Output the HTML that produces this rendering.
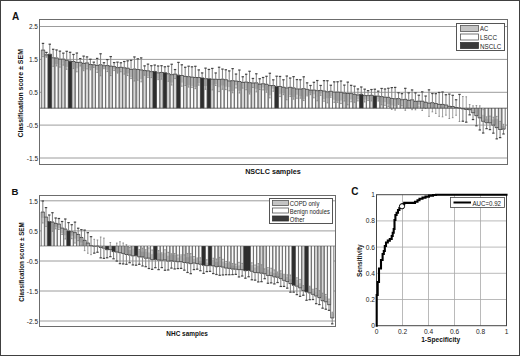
<!DOCTYPE html>
<html><head><meta charset="utf-8"><style>
html,body{margin:0;padding:0;background:#fff;width:520px;height:356px;overflow:hidden}
svg{display:block}
text{font-family:"Liberation Sans",sans-serif}
</style></head><body>
<svg width="520" height="356" viewBox="0 0 520 356">
<rect x="0.5" y="0.5" width="519" height="355" fill="#fff" stroke="#404040" stroke-width="1"/>
<g stroke="#9c9c9c" stroke-width="1"><path d="M40 26.5H507"/><path d="M40 59.4H507"/><path d="M40 92.3H507"/><path d="M40 125.1H507"/><path d="M40 158.0H507"/></g>
<g fill="#d6d6d6"><rect x="41.31" y="50.00" width="3.39" height="58.20"/><rect x="51.47" y="57.79" width="3.39" height="50.41"/><rect x="58.24" y="59.13" width="3.39" height="49.07"/><rect x="61.62" y="59.13" width="3.39" height="49.07"/><rect x="71.78" y="61.47" width="3.39" height="46.73"/><rect x="78.55" y="62.28" width="3.39" height="45.92"/><rect x="85.33" y="62.88" width="3.39" height="45.32"/><rect x="92.10" y="64.76" width="3.39" height="43.44"/><rect x="98.87" y="64.77" width="3.39" height="43.43"/><rect x="109.03" y="66.08" width="3.39" height="42.12"/><rect x="119.19" y="67.27" width="3.39" height="40.93"/><rect x="122.57" y="67.80" width="3.39" height="40.40"/><rect x="132.73" y="68.97" width="3.39" height="39.23"/><rect x="136.11" y="69.49" width="3.39" height="38.71"/><rect x="142.89" y="70.57" width="3.39" height="37.63"/><rect x="149.66" y="71.65" width="3.39" height="36.55"/><rect x="159.82" y="72.45" width="3.39" height="35.75"/><rect x="166.59" y="73.74" width="3.39" height="34.46"/><rect x="173.36" y="74.06" width="3.39" height="34.14"/><rect x="183.52" y="76.36" width="3.39" height="31.84"/><rect x="210.61" y="79.20" width="3.39" height="29.00"/><rect x="241.08" y="82.45" width="3.39" height="25.75"/><rect x="244.47" y="82.01" width="3.39" height="26.19"/><rect x="251.24" y="82.97" width="3.39" height="25.23"/><rect x="258.01" y="84.12" width="3.39" height="24.08"/><rect x="285.10" y="87.91" width="3.39" height="20.29"/><rect x="315.57" y="90.67" width="3.39" height="17.53"/><rect x="342.66" y="93.07" width="3.39" height="15.13"/><rect x="346.05" y="93.46" width="3.39" height="14.74"/><rect x="352.82" y="94.26" width="3.39" height="13.94"/><rect x="369.75" y="95.25" width="3.39" height="12.95"/><rect x="379.91" y="96.64" width="3.39" height="11.56"/><rect x="400.22" y="99.69" width="3.39" height="8.51"/><rect x="403.61" y="99.32" width="3.39" height="8.88"/><rect x="407.00" y="100.35" width="3.39" height="7.85"/><rect x="410.38" y="99.81" width="3.39" height="8.39"/><rect x="413.77" y="101.34" width="3.39" height="6.86"/><rect x="420.54" y="101.17" width="3.39" height="7.03"/><rect x="423.93" y="102.25" width="3.39" height="5.95"/><rect x="437.47" y="104.39" width="3.39" height="3.81"/><rect x="444.24" y="104.94" width="3.39" height="3.26"/><rect x="488.26" y="108.20" width="3.39" height="14.65"/><rect x="498.42" y="108.20" width="3.39" height="21.29"/></g>
<g fill="#fafafa"><rect x="44.69" y="54.80" width="3.39" height="53.40"/><rect x="54.85" y="57.96" width="3.39" height="50.24"/><rect x="65.01" y="60.30" width="3.39" height="47.90"/><rect x="75.17" y="62.44" width="3.39" height="45.76"/><rect x="81.94" y="63.42" width="3.39" height="44.78"/><rect x="88.71" y="64.53" width="3.39" height="43.67"/><rect x="95.48" y="65.41" width="3.39" height="42.79"/><rect x="102.26" y="65.71" width="3.39" height="42.49"/><rect x="105.64" y="65.59" width="3.39" height="42.61"/><rect x="112.41" y="66.58" width="3.39" height="41.62"/><rect x="115.80" y="67.63" width="3.39" height="40.57"/><rect x="125.96" y="68.18" width="3.39" height="40.02"/><rect x="129.34" y="69.47" width="3.39" height="38.73"/><rect x="139.50" y="69.86" width="3.39" height="38.34"/><rect x="146.27" y="70.78" width="3.39" height="37.42"/><rect x="156.43" y="72.81" width="3.39" height="35.39"/><rect x="169.97" y="74.65" width="3.39" height="33.55"/><rect x="180.13" y="75.50" width="3.39" height="32.70"/><rect x="186.91" y="76.66" width="3.39" height="31.54"/><rect x="190.29" y="77.10" width="3.39" height="31.10"/><rect x="193.68" y="77.47" width="3.39" height="30.73"/><rect x="197.06" y="77.53" width="3.39" height="30.67"/><rect x="203.84" y="78.73" width="3.39" height="29.47"/><rect x="213.99" y="79.24" width="3.39" height="28.96"/><rect x="217.38" y="79.44" width="3.39" height="28.76"/><rect x="220.76" y="79.18" width="3.39" height="29.02"/><rect x="224.15" y="79.70" width="3.39" height="28.50"/><rect x="227.54" y="80.90" width="3.39" height="27.30"/><rect x="230.92" y="80.70" width="3.39" height="27.50"/><rect x="234.31" y="81.02" width="3.39" height="27.18"/><rect x="237.69" y="81.53" width="3.39" height="26.67"/><rect x="247.85" y="82.64" width="3.39" height="25.56"/><rect x="254.62" y="82.84" width="3.39" height="25.36"/><rect x="261.40" y="83.72" width="3.39" height="24.48"/><rect x="264.78" y="84.28" width="3.39" height="23.92"/><rect x="268.17" y="85.55" width="3.39" height="22.65"/><rect x="271.56" y="85.54" width="3.39" height="22.66"/><rect x="278.33" y="86.51" width="3.39" height="21.69"/><rect x="281.71" y="87.24" width="3.39" height="20.96"/><rect x="288.49" y="87.30" width="3.39" height="20.90"/><rect x="291.87" y="87.91" width="3.39" height="20.29"/><rect x="295.26" y="88.92" width="3.39" height="19.28"/><rect x="298.64" y="88.97" width="3.39" height="19.23"/><rect x="302.03" y="88.68" width="3.39" height="19.52"/><rect x="305.42" y="89.38" width="3.39" height="18.82"/><rect x="308.80" y="90.09" width="3.39" height="18.11"/><rect x="312.19" y="90.04" width="3.39" height="18.16"/><rect x="318.96" y="90.42" width="3.39" height="17.78"/><rect x="322.35" y="90.96" width="3.39" height="17.24"/><rect x="325.73" y="91.79" width="3.39" height="16.41"/><rect x="329.12" y="91.25" width="3.39" height="16.95"/><rect x="332.50" y="92.10" width="3.39" height="16.10"/><rect x="335.89" y="92.06" width="3.39" height="16.14"/><rect x="339.28" y="92.28" width="3.39" height="15.92"/><rect x="349.43" y="93.56" width="3.39" height="14.64"/><rect x="356.21" y="94.93" width="3.39" height="13.27"/><rect x="362.98" y="95.58" width="3.39" height="12.62"/><rect x="366.36" y="95.60" width="3.39" height="12.60"/><rect x="376.52" y="96.09" width="3.39" height="12.11"/><rect x="383.29" y="97.17" width="3.39" height="11.03"/><rect x="386.68" y="97.34" width="3.39" height="10.86"/><rect x="390.07" y="98.50" width="3.39" height="9.70"/><rect x="393.45" y="98.75" width="3.39" height="9.45"/><rect x="396.84" y="98.61" width="3.39" height="9.59"/><rect x="417.15" y="101.17" width="3.39" height="7.03"/><rect x="427.31" y="103.10" width="3.39" height="5.10"/><rect x="430.70" y="102.69" width="3.39" height="5.51"/><rect x="434.08" y="103.54" width="3.39" height="4.66"/><rect x="440.86" y="104.41" width="3.39" height="3.79"/><rect x="447.63" y="106.30" width="3.39" height="1.90"/><rect x="451.01" y="106.50" width="3.39" height="1.70"/><rect x="454.40" y="107.51" width="3.39" height="0.69"/><rect x="457.79" y="107.95" width="3.39" height="0.25"/><rect x="461.17" y="108.20" width="3.39" height="0.67"/><rect x="464.56" y="108.20" width="3.39" height="1.27"/><rect x="467.94" y="108.20" width="3.39" height="1.53"/><rect x="471.33" y="108.20" width="3.39" height="4.49"/><rect x="474.72" y="108.20" width="3.39" height="7.48"/><rect x="478.10" y="108.20" width="3.39" height="9.70"/><rect x="481.49" y="108.20" width="3.39" height="13.12"/><rect x="484.87" y="108.20" width="3.39" height="14.54"/><rect x="491.65" y="108.20" width="3.39" height="16.96"/><rect x="495.03" y="108.20" width="3.39" height="19.43"/><rect x="501.80" y="108.20" width="3.39" height="20.95"/></g>
<g fill="#c8c8c8"><rect x="41.31" y="50.00" width="3.39" height="4.71"/><rect x="44.69" y="54.80" width="3.39" height="1.75"/><rect x="51.47" y="57.79" width="3.39" height="6.74"/><rect x="54.85" y="57.96" width="3.39" height="6.23"/><rect x="58.24" y="59.13" width="3.39" height="5.88"/><rect x="61.62" y="59.13" width="3.39" height="3.36"/><rect x="65.01" y="60.30" width="3.39" height="6.59"/><rect x="71.78" y="61.47" width="3.39" height="6.29"/><rect x="75.17" y="62.44" width="3.39" height="5.93"/><rect x="78.55" y="62.28" width="3.39" height="2.55"/><rect x="81.94" y="63.42" width="3.39" height="6.18"/><rect x="85.33" y="62.88" width="3.39" height="4.29"/><rect x="88.71" y="64.53" width="3.39" height="4.08"/><rect x="92.10" y="64.76" width="3.39" height="1.73"/><rect x="95.48" y="65.41" width="3.39" height="4.45"/><rect x="98.87" y="64.77" width="3.39" height="6.73"/><rect x="102.26" y="65.71" width="3.39" height="2.42"/><rect x="105.64" y="65.59" width="3.39" height="4.18"/><rect x="109.03" y="66.08" width="3.39" height="7.90"/><rect x="112.41" y="66.58" width="3.39" height="2.75"/><rect x="115.80" y="67.63" width="3.39" height="4.93"/><rect x="119.19" y="67.27" width="3.39" height="2.99"/><rect x="122.57" y="67.80" width="3.39" height="4.75"/><rect x="125.96" y="68.18" width="3.39" height="5.21"/><rect x="129.34" y="69.47" width="3.39" height="7.79"/><rect x="132.73" y="68.97" width="3.39" height="10.07"/><rect x="136.11" y="69.49" width="3.39" height="9.38"/><rect x="139.50" y="69.86" width="3.39" height="9.11"/><rect x="142.89" y="70.57" width="3.39" height="4.16"/><rect x="146.27" y="70.78" width="3.39" height="5.56"/><rect x="149.66" y="71.65" width="3.39" height="4.77"/><rect x="156.43" y="72.81" width="3.39" height="5.96"/><rect x="159.82" y="72.45" width="3.39" height="4.76"/><rect x="166.59" y="73.74" width="3.39" height="6.50"/><rect x="169.97" y="74.65" width="3.39" height="7.85"/><rect x="173.36" y="74.06" width="3.39" height="3.92"/><rect x="180.13" y="75.50" width="3.39" height="7.08"/><rect x="183.52" y="76.36" width="3.39" height="7.35"/><rect x="186.91" y="76.66" width="3.39" height="8.65"/><rect x="190.29" y="77.10" width="3.39" height="8.89"/><rect x="193.68" y="77.47" width="3.39" height="9.52"/><rect x="197.06" y="77.53" width="3.39" height="5.75"/><rect x="203.84" y="78.73" width="3.39" height="7.27"/><rect x="210.61" y="79.20" width="3.39" height="6.03"/><rect x="213.99" y="79.24" width="3.39" height="4.99"/><rect x="217.38" y="79.44" width="3.39" height="7.80"/><rect x="220.76" y="79.18" width="3.39" height="6.27"/><rect x="224.15" y="79.70" width="3.39" height="7.00"/><rect x="227.54" y="80.90" width="3.39" height="6.18"/><rect x="230.92" y="80.70" width="3.39" height="10.37"/><rect x="234.31" y="81.02" width="3.39" height="4.17"/><rect x="237.69" y="81.53" width="3.39" height="9.19"/><rect x="241.08" y="82.45" width="3.39" height="4.03"/><rect x="244.47" y="82.01" width="3.39" height="5.98"/><rect x="247.85" y="82.64" width="3.39" height="10.17"/><rect x="251.24" y="82.97" width="3.39" height="3.86"/><rect x="254.62" y="82.84" width="3.39" height="5.97"/><rect x="258.01" y="84.12" width="3.39" height="3.82"/><rect x="261.40" y="83.72" width="3.39" height="3.74"/><rect x="264.78" y="84.28" width="3.39" height="6.16"/><rect x="268.17" y="85.55" width="3.39" height="9.71"/><rect x="271.56" y="85.54" width="3.39" height="3.16"/><rect x="278.33" y="86.51" width="3.39" height="7.36"/><rect x="281.71" y="87.24" width="3.39" height="6.17"/><rect x="285.10" y="87.91" width="3.39" height="9.54"/><rect x="288.49" y="87.30" width="3.39" height="8.05"/><rect x="291.87" y="87.91" width="3.39" height="9.36"/><rect x="295.26" y="88.92" width="3.39" height="5.82"/><rect x="298.64" y="88.97" width="3.39" height="7.39"/><rect x="302.03" y="88.68" width="3.39" height="10.59"/><rect x="305.42" y="89.38" width="3.39" height="5.68"/><rect x="308.80" y="90.09" width="3.39" height="3.25"/><rect x="312.19" y="90.04" width="3.39" height="4.34"/><rect x="315.57" y="90.67" width="3.39" height="6.19"/><rect x="318.96" y="90.42" width="3.39" height="2.99"/><rect x="322.35" y="90.96" width="3.39" height="8.16"/><rect x="325.73" y="91.79" width="3.39" height="6.42"/><rect x="329.12" y="91.25" width="3.39" height="4.84"/><rect x="332.50" y="92.10" width="3.39" height="7.65"/><rect x="335.89" y="92.06" width="3.39" height="8.90"/><rect x="339.28" y="92.28" width="3.39" height="8.26"/><rect x="342.66" y="93.07" width="3.39" height="5.79"/><rect x="346.05" y="93.46" width="3.39" height="8.29"/><rect x="349.43" y="93.56" width="3.39" height="5.94"/><rect x="352.82" y="94.26" width="3.39" height="5.60"/><rect x="356.21" y="94.93" width="3.39" height="4.29"/><rect x="362.98" y="95.58" width="3.39" height="3.95"/><rect x="366.36" y="95.60" width="3.39" height="4.07"/><rect x="369.75" y="95.25" width="3.39" height="4.53"/><rect x="376.52" y="96.09" width="3.39" height="3.59"/><rect x="379.91" y="96.64" width="3.39" height="5.75"/><rect x="383.29" y="97.17" width="3.39" height="4.97"/><rect x="386.68" y="97.34" width="3.39" height="6.69"/><rect x="390.07" y="98.50" width="3.39" height="6.88"/><rect x="393.45" y="98.75" width="3.39" height="7.49"/><rect x="396.84" y="98.61" width="3.39" height="5.26"/><rect x="400.22" y="99.69" width="3.39" height="4.87"/><rect x="403.61" y="99.32" width="3.39" height="7.66"/><rect x="407.00" y="100.35" width="3.39" height="5.92"/><rect x="410.38" y="99.81" width="3.39" height="8.39"/><rect x="413.77" y="101.34" width="3.39" height="6.86"/><rect x="417.15" y="101.17" width="3.39" height="3.42"/><rect x="420.54" y="101.17" width="3.39" height="6.81"/><rect x="423.93" y="102.25" width="3.39" height="3.86"/><rect x="427.31" y="103.10" width="3.39" height="5.10"/><rect x="430.70" y="102.69" width="3.39" height="5.51"/><rect x="434.08" y="103.54" width="3.39" height="4.66"/><rect x="437.47" y="104.39" width="3.39" height="3.81"/><rect x="440.86" y="104.41" width="3.39" height="3.79"/><rect x="444.24" y="104.94" width="3.39" height="3.26"/><rect x="447.63" y="106.30" width="3.39" height="1.90"/><rect x="451.01" y="106.50" width="3.39" height="1.70"/><rect x="454.40" y="107.51" width="3.39" height="0.69"/><rect x="457.79" y="107.95" width="3.39" height="0.25"/><rect x="461.17" y="108.20" width="3.39" height="0.67"/><rect x="464.56" y="108.20" width="3.39" height="1.27"/><rect x="467.94" y="108.20" width="3.39" height="1.53"/><rect x="471.33" y="108.20" width="3.39" height="4.49"/><rect x="474.72" y="108.20" width="3.39" height="7.48"/><rect x="478.10" y="108.56" width="3.39" height="9.34"/><rect x="481.49" y="114.79" width="3.39" height="6.53"/><rect x="484.87" y="118.66" width="3.39" height="4.08"/><rect x="488.26" y="118.91" width="3.39" height="3.94"/><rect x="491.65" y="119.35" width="3.39" height="5.81"/><rect x="495.03" y="118.95" width="3.39" height="8.68"/><rect x="498.42" y="122.86" width="3.39" height="6.63"/><rect x="501.80" y="125.71" width="3.39" height="3.45"/></g>
<path d="M41.31 50.00V108.20M44.69 50.00V108.20M44.69 54.80V108.20M48.08 54.80V108.20M48.08 54.20V108.20M51.47 54.20V108.20M51.47 57.79V108.20M54.85 57.79V108.20M54.85 57.96V108.20M58.24 57.96V108.20M58.24 59.13V108.20M61.62 59.13V108.20M61.62 59.13V108.20M65.01 59.13V108.20M65.01 60.30V108.20M68.39 60.30V108.20M68.39 61.18V108.20M71.78 61.18V108.20M71.78 61.47V108.20M75.17 61.47V108.20M75.17 62.44V108.20M78.55 62.44V108.20M78.55 62.28V108.20M81.94 62.28V108.20M81.94 63.42V108.20M85.33 63.42V108.20M85.33 62.88V108.20M88.71 62.88V108.20M88.71 64.53V108.20M92.10 64.53V108.20M92.10 64.76V108.20M95.48 64.76V108.20M95.48 65.41V108.20M98.87 65.41V108.20M98.87 64.77V108.20M102.26 64.77V108.20M102.26 65.71V108.20M105.64 65.71V108.20M105.64 65.59V108.20M109.03 65.59V108.20M109.03 66.08V108.20M112.41 66.08V108.20M112.41 66.58V108.20M115.80 66.58V108.20M115.80 67.63V108.20M119.19 67.63V108.20M119.19 67.27V108.20M122.57 67.27V108.20M122.57 67.80V108.20M125.96 67.80V108.20M125.96 68.18V108.20M129.34 68.18V108.20M129.34 69.47V108.20M132.73 69.47V108.20M132.73 68.97V108.20M136.11 68.97V108.20M136.11 69.49V108.20M139.50 69.49V108.20M139.50 69.86V108.20M142.89 69.86V108.20M142.89 70.57V108.20M146.27 70.57V108.20M146.27 70.78V108.20M149.66 70.78V108.20M149.66 71.65V108.20M153.04 71.65V108.20M153.04 71.45V108.20M156.43 71.45V108.20M156.43 72.81V108.20M159.82 72.81V108.20M159.82 72.45V108.20M163.20 72.45V108.20M163.20 72.70V108.20M166.59 72.70V108.20M166.59 73.74V108.20M169.97 73.74V108.20M169.97 74.65V108.20M173.36 74.65V108.20M173.36 74.06V108.20M176.75 74.06V108.20M176.75 75.16V108.20M180.13 75.16V108.20M180.13 75.50V108.20M183.52 75.50V108.20M183.52 76.36V108.20M186.91 76.36V108.20M186.91 76.66V108.20M190.29 76.66V108.20M190.29 77.10V108.20M193.68 77.10V108.20M193.68 77.47V108.20M197.06 77.47V108.20M197.06 77.53V108.20M200.45 77.53V108.20M200.45 77.94V108.20M203.83 77.94V108.20M203.84 78.73V108.20M207.22 78.73V108.20M207.22 78.74V108.20M210.61 78.74V108.20M210.61 79.20V108.20M213.99 79.20V108.20M213.99 79.24V108.20M217.38 79.24V108.20M217.38 79.44V108.20M220.76 79.44V108.20M220.76 79.18V108.20M224.15 79.18V108.20M224.15 79.70V108.20M227.54 79.70V108.20M227.54 80.90V108.20M230.92 80.90V108.20M230.92 80.70V108.20M234.31 80.70V108.20M234.31 81.02V108.20M237.69 81.02V108.20M237.69 81.53V108.20M241.08 81.53V108.20M241.08 82.45V108.20M244.47 82.45V108.20M244.47 82.01V108.20M247.85 82.01V108.20M247.85 82.64V108.20M251.24 82.64V108.20M251.24 82.97V108.20M254.62 82.97V108.20M254.62 82.84V108.20M258.01 82.84V108.20M258.01 84.12V108.20M261.40 84.12V108.20M261.40 83.72V108.20M264.78 83.72V108.20M264.78 84.28V108.20M268.17 84.28V108.20M268.17 85.55V108.20M271.56 85.55V108.20M271.56 85.54V108.20M274.94 85.54V108.20M274.94 86.41V108.20M278.33 86.41V108.20M278.33 86.51V108.20M281.71 86.51V108.20M281.71 87.24V108.20M285.10 87.24V108.20M285.10 87.91V108.20M288.49 87.91V108.20M288.49 87.30V108.20M291.87 87.30V108.20M291.87 87.91V108.20M295.26 87.91V108.20M295.26 88.92V108.20M298.64 88.92V108.20M298.64 88.97V108.20M302.03 88.97V108.20M302.03 88.68V108.20M305.42 88.68V108.20M305.42 89.38V108.20M308.80 89.38V108.20M308.80 90.09V108.20M312.19 90.09V108.20M312.19 90.04V108.20M315.57 90.04V108.20M315.57 90.67V108.20M318.96 90.67V108.20M318.96 90.42V108.20M322.35 90.42V108.20M322.35 90.96V108.20M325.73 90.96V108.20M325.73 91.79V108.20M329.12 91.79V108.20M329.12 91.25V108.20M332.50 91.25V108.20M332.50 92.10V108.20M335.89 92.10V108.20M335.89 92.06V108.20M339.28 92.06V108.20M339.28 92.28V108.20M342.66 92.28V108.20M342.66 93.07V108.20M346.05 93.07V108.20M346.05 93.46V108.20M349.43 93.46V108.20M349.43 93.56V108.20M352.82 93.56V108.20M352.82 94.26V108.20M356.21 94.26V108.20M356.21 94.93V108.20M359.59 94.93V108.20M359.59 94.29V108.20M362.98 94.29V108.20M362.98 95.58V108.20M366.36 95.58V108.20M366.36 95.60V108.20M369.75 95.60V108.20M369.75 95.25V108.20M373.14 95.25V108.20M373.14 95.97V108.20M376.52 95.97V108.20M376.52 96.09V108.20M379.91 96.09V108.20M379.91 96.64V108.20M383.29 96.64V108.20M383.29 97.17V108.20M386.68 97.17V108.20M386.68 97.34V108.20M390.07 97.34V108.20M390.07 98.50V108.20M393.45 98.50V108.20M393.45 98.75V108.20M396.84 98.75V108.20M396.84 98.61V108.20M400.22 98.61V108.20M400.22 99.69V108.20M403.61 99.69V108.20M403.61 99.32V108.20M407.00 99.32V108.20M407.00 100.35V108.20M410.38 100.35V108.20M410.38 99.81V108.20M413.77 99.81V108.20M413.77 101.34V108.20M417.15 101.34V108.20M417.15 101.17V108.20M420.54 101.17V108.20M420.54 101.17V108.20M423.93 101.17V108.20M423.93 102.25V108.20M427.31 102.25V108.20M427.31 103.10V108.20M430.70 103.10V108.20M430.70 102.69V108.20M434.08 102.69V108.20M434.08 103.54V108.20M437.47 103.54V108.20M437.47 104.39V108.20M440.86 104.39V108.20M440.86 104.41V108.20M444.24 104.41V108.20M444.24 104.94V108.20M447.63 104.94V108.20M447.63 106.30V108.20M451.01 106.30V108.20M451.01 106.50V108.20M454.40 106.50V108.20M454.40 107.51V108.20M457.79 107.51V108.20M457.79 107.95V108.20M461.17 107.95V108.20M461.17 108.20V108.87M464.56 108.20V108.87M464.56 108.20V109.47M467.94 108.20V109.47M467.94 108.20V109.73M471.33 108.20V109.73M471.33 108.20V112.69M474.72 108.20V112.69M474.72 108.20V115.68M478.10 108.20V115.68M478.10 108.20V117.90M481.49 108.20V117.90M481.49 108.20V121.32M484.87 108.20V121.32M484.87 108.20V122.74M488.26 108.20V122.74M488.26 108.20V122.85M491.65 108.20V122.85M491.65 108.20V125.16M495.03 108.20V125.16M495.03 108.20V127.63M498.42 108.20V127.63M498.42 108.20V129.49M501.80 108.20V129.49M501.80 108.20V129.15M505.19 108.20V129.15" stroke="#727272" stroke-width="1.0" fill="none"/>
<g fill="#2e2e2e"><rect x="48.08" y="54.20" width="3.39" height="54.00"/><rect x="68.39" y="61.18" width="3.39" height="47.02"/><rect x="153.04" y="71.45" width="3.39" height="36.75"/><rect x="163.20" y="72.70" width="3.39" height="35.50"/><rect x="176.75" y="75.16" width="3.39" height="33.04"/><rect x="200.45" y="77.94" width="3.39" height="30.26"/><rect x="207.22" y="78.74" width="3.39" height="29.46"/><rect x="274.94" y="86.41" width="3.39" height="21.79"/><rect x="359.59" y="94.29" width="3.39" height="13.91"/><rect x="373.14" y="95.97" width="3.39" height="12.23"/></g>
<path d="M43.00 50.00V56.60M46.39 54.80V57.20M53.16 57.79V66.29M56.54 57.96V65.96M59.93 59.13V67.13M63.32 59.13V65.13M66.70 60.30V69.30M73.47 61.47V68.47M76.86 62.44V71.84M80.25 62.28V65.98M83.63 63.42V70.72M87.02 62.88V68.88M90.40 64.53V69.83M93.79 64.76V67.36M97.18 65.41V72.41M100.56 64.77V75.77M103.95 65.71V68.71M107.33 65.59V71.59M110.72 66.08V75.58M114.11 66.58V70.58M117.49 67.63V73.13M120.88 67.27V71.77M124.26 67.80V74.10M127.65 68.18V75.53M131.04 69.47V78.60M134.42 68.97V81.02M137.81 69.49V80.15M141.19 69.86V81.83M144.58 70.57V75.26M147.97 70.78V77.42M151.35 71.65V77.59M158.12 72.81V79.66M161.51 72.45V79.20M168.28 73.74V81.28M171.67 74.65V85.05M175.05 74.06V78.58M181.83 75.50V86.21M185.21 76.36V85.45M188.60 76.66V87.11M191.98 77.10V87.38M195.37 77.47V88.65M198.76 77.53V85.16M205.53 78.73V89.32M212.30 79.20V89.96M215.69 79.24V85.52M219.07 79.44V91.64M222.46 79.18V89.29M225.84 79.70V89.64M229.23 80.90V90.87M232.62 80.70V92.79M236.00 81.02V87.99M239.39 81.53V93.03M242.77 82.45V88.14M246.16 82.01V89.78M249.55 82.64V94.02M252.93 82.97V87.47M256.32 82.84V91.92M259.70 84.12V89.50M263.09 83.72V89.95M266.48 84.28V92.27M269.86 85.55V97.85M273.25 85.54V91.26M280.02 86.51V96.57M283.41 87.24V94.70M286.79 87.91V99.79M290.18 87.30V96.57M293.56 87.91V99.20M296.95 88.92V98.27M300.34 88.97V98.19M303.72 88.68V100.55M307.11 89.38V95.92M310.49 90.09V94.70M313.88 90.04V97.80M317.27 90.67V100.81M320.65 90.42V95.38M324.04 90.96V101.27M327.42 91.79V102.87M330.81 91.25V97.26M334.20 92.10V102.35M337.58 92.06V102.35M340.97 92.28V103.55M344.35 93.07V101.04M347.74 93.46V104.80M351.13 93.56V101.79M354.51 94.26V102.33M357.90 94.93V100.92M364.67 95.58V101.98M368.06 95.60V100.54M371.44 95.25V100.98M378.21 96.09V101.02M381.60 96.64V104.82M384.99 97.17V105.37M388.37 97.34V106.44M391.76 98.50V109.39M395.14 98.75V110.08M398.53 98.61V104.46M401.92 99.69V105.74M405.30 99.32V110.30M408.69 100.35V107.84M412.07 99.81V109.69M415.46 101.34V109.82M418.85 101.17V107.13M422.23 101.17V110.49M425.62 102.25V108.47M429.00 103.10V116.37M432.39 102.69V111.85M435.78 103.54V113.42M439.16 104.39V116.34M442.55 104.41V116.85M445.93 104.94V115.16M449.32 106.30V118.51M452.71 106.50V117.70M456.09 107.51V115.27M459.48 107.95V121.47M462.86 108.87V96.53M466.25 109.47V96.79M469.64 109.73V104.59M473.02 112.69V105.81M476.41 115.68V105.57M479.79 117.90V105.84M483.18 121.32V109.62M486.57 122.74V116.84M489.95 122.85V116.10M493.34 125.16V117.18M496.72 127.63V116.41M500.11 129.49V121.36M503.50 129.15V124.33" stroke="#8a8a8a" stroke-width="0.8" fill="none"/>
<path d="M42.20 56.60H43.80M45.59 57.20H47.19M52.36 66.29H53.96M55.74 65.96H57.34M59.13 67.13H60.73M62.52 65.13H64.12M65.90 69.30H67.50M72.67 68.47H74.27M76.06 71.84H77.66M79.45 65.98H81.05M82.83 70.72H84.43M86.22 68.88H87.82M89.60 69.83H91.20M92.99 67.36H94.59M96.38 72.41H97.98M99.76 75.77H101.36M103.15 68.71H104.75M106.53 71.59H108.13M109.92 75.58H111.52M113.31 70.58H114.91M116.69 73.13H118.29M120.08 71.77H121.68M123.46 74.10H125.06M126.85 75.53H128.45M130.24 78.60H131.84M133.62 81.02H135.22M137.01 80.15H138.61M140.39 81.83H141.99M143.78 75.26H145.38M147.17 77.42H148.77M150.55 77.59H152.15M157.32 79.66H158.92M160.71 79.20H162.31M167.48 81.28H169.08M170.87 85.05H172.47M174.25 78.58H175.85M181.03 86.21H182.63M184.41 85.45H186.01M187.80 87.11H189.40M191.18 87.38H192.78M194.57 88.65H196.17M197.96 85.16H199.56M204.73 89.32H206.33M211.50 89.96H213.10M214.89 85.52H216.49M218.27 91.64H219.87M221.66 89.29H223.26M225.04 89.64H226.64M228.43 90.87H230.03M231.82 92.79H233.42M235.20 87.99H236.80M238.59 93.03H240.19M241.97 88.14H243.57M245.36 89.78H246.96M248.75 94.02H250.35M252.13 87.47H253.73M255.52 91.92H257.12M258.90 89.50H260.50M262.29 89.95H263.89M265.68 92.27H267.28M269.06 97.85H270.66M272.45 91.26H274.05M279.22 96.57H280.82M282.61 94.70H284.21M285.99 99.79H287.59M289.38 96.57H290.98M292.76 99.20H294.36M296.15 98.27H297.75M299.54 98.19H301.14M302.92 100.55H304.52M306.31 95.92H307.91M309.69 94.70H311.29M313.08 97.80H314.68M316.47 100.81H318.07M319.85 95.38H321.45M323.24 101.27H324.84M326.62 102.87H328.22M330.01 97.26H331.61M333.40 102.35H335.00M336.78 102.35H338.38M340.17 103.55H341.77M343.55 101.04H345.15M346.94 104.80H348.54M350.33 101.79H351.93M353.71 102.33H355.31M357.10 100.92H358.70M363.87 101.98H365.47M367.26 100.54H368.86M370.64 100.98H372.24M377.41 101.02H379.01M380.80 104.82H382.40M384.19 105.37H385.79M387.57 106.44H389.17M390.96 109.39H392.56M394.34 110.08H395.94M397.73 104.46H399.33M401.12 105.74H402.72M404.50 110.30H406.10M407.89 107.84H409.49M411.27 109.69H412.87M414.66 109.82H416.26M418.05 107.13H419.65M421.43 110.49H423.03M424.82 108.47H426.42M428.20 116.37H429.80M431.59 111.85H433.19M434.98 113.42H436.58M438.36 116.34H439.96M441.75 116.85H443.35M445.13 115.16H446.73M448.52 118.51H450.12M451.91 117.70H453.51M455.29 115.27H456.89M458.68 121.47H460.28M462.06 96.53H463.66M465.45 96.79H467.05M468.84 104.59H470.44M472.22 105.81H473.82M475.61 105.57H477.21M478.99 105.84H480.59M482.38 109.62H483.98M485.77 116.84H487.37M489.15 116.10H490.75M492.54 117.18H494.14M495.92 116.41H497.52M499.31 121.36H500.91M502.70 124.33H504.30" stroke="#7a7a7a" stroke-width="0.8" fill="none"/>
<path d="M41.31 50.00H44.69M44.69 54.80H48.08M48.08 54.20H51.47M51.47 57.79H54.85M54.85 57.96H58.24M58.24 59.13H61.62M61.62 59.13H65.01M65.01 60.30H68.39M68.39 61.18H71.78M71.78 61.47H75.17M75.17 62.44H78.55M78.55 62.28H81.94M81.94 63.42H85.33M85.33 62.88H88.71M88.71 64.53H92.10M92.10 64.76H95.48M95.48 65.41H98.87M98.87 64.77H102.26M102.26 65.71H105.64M105.64 65.59H109.03M109.03 66.08H112.41M112.41 66.58H115.80M115.80 67.63H119.19M119.19 67.27H122.57M122.57 67.80H125.96M125.96 68.18H129.34M129.34 69.47H132.73M132.73 68.97H136.11M136.11 69.49H139.50M139.50 69.86H142.89M142.89 70.57H146.27M146.27 70.78H149.66M149.66 71.65H153.04M153.04 71.45H156.43M156.43 72.81H159.82M159.82 72.45H163.20M163.20 72.70H166.59M166.59 73.74H169.97M169.97 74.65H173.36M173.36 74.06H176.75M176.75 75.16H180.13M180.13 75.50H183.52M183.52 76.36H186.91M186.91 76.66H190.29M190.29 77.10H193.68M193.68 77.47H197.06M197.06 77.53H200.45M200.45 77.94H203.83M203.84 78.73H207.22M207.22 78.74H210.61M210.61 79.20H213.99M213.99 79.24H217.38M217.38 79.44H220.76M220.76 79.18H224.15M224.15 79.70H227.54M227.54 80.90H230.92M230.92 80.70H234.31M234.31 81.02H237.69M237.69 81.53H241.08M241.08 82.45H244.47M244.47 82.01H247.85M247.85 82.64H251.24M251.24 82.97H254.62M254.62 82.84H258.01M258.01 84.12H261.40M261.40 83.72H264.78M264.78 84.28H268.17M268.17 85.55H271.56M271.56 85.54H274.94M274.94 86.41H278.33M278.33 86.51H281.71M281.71 87.24H285.10M285.10 87.91H288.49M288.49 87.30H291.87M291.87 87.91H295.26M295.26 88.92H298.64M298.64 88.97H302.03M302.03 88.68H305.42M305.42 89.38H308.80M308.80 90.09H312.19M312.19 90.04H315.57M315.57 90.67H318.96M318.96 90.42H322.35M322.35 90.96H325.73M325.73 91.79H329.12M329.12 91.25H332.50M332.50 92.10H335.89M335.89 92.06H339.28M339.28 92.28H342.66M342.66 93.07H346.05M346.05 93.46H349.43M349.43 93.56H352.82M352.82 94.26H356.21M356.21 94.93H359.59M359.59 94.29H362.98M362.98 95.58H366.36M366.36 95.60H369.75M369.75 95.25H373.14M373.14 95.97H376.52M376.52 96.09H379.91M379.91 96.64H383.29M383.29 97.17H386.68M386.68 97.34H390.07M390.07 98.50H393.45M393.45 98.75H396.84M396.84 98.61H400.22M400.22 99.69H403.61M403.61 99.32H407.00M407.00 100.35H410.38M410.38 99.81H413.77M413.77 101.34H417.15M417.15 101.17H420.54M420.54 101.17H423.93M423.93 102.25H427.31M427.31 103.10H430.70M430.70 102.69H434.08M434.08 103.54H437.47M437.47 104.39H440.86M440.86 104.41H444.24M444.24 104.94H447.63M447.63 106.30H451.01M451.01 106.50H454.40M454.40 107.51H457.79M457.79 107.95H461.17M461.17 108.87H464.56M464.56 109.47H467.94M467.94 109.73H471.33M471.33 112.69H474.72M474.72 115.68H478.10M478.10 117.90H481.49M481.49 121.32H484.87M484.87 122.74H488.26M488.26 122.85H491.65M491.65 125.16H495.03M495.03 127.63H498.42M498.42 129.49H501.80M501.80 129.15H505.19" stroke="#404040" stroke-width="0.9" fill="none"/>
<g fill="#888888"><rect x="42.45" y="43.40" width="1.1" height="6.60"/><rect x="45.84" y="52.40" width="1.1" height="2.40"/><rect x="49.22" y="44.20" width="1.1" height="10.00"/><rect x="52.61" y="49.29" width="1.1" height="8.50"/><rect x="55.99" y="49.96" width="1.1" height="8.00"/><rect x="59.38" y="51.13" width="1.1" height="8.00"/><rect x="62.77" y="53.13" width="1.1" height="6.00"/><rect x="66.15" y="51.30" width="1.1" height="9.00"/><rect x="69.54" y="52.28" width="1.1" height="8.90"/><rect x="72.92" y="54.47" width="1.1" height="7.00"/><rect x="76.31" y="53.04" width="1.1" height="9.40"/><rect x="79.70" y="58.58" width="1.1" height="3.70"/><rect x="83.08" y="56.12" width="1.1" height="7.30"/><rect x="86.47" y="56.88" width="1.1" height="6.00"/><rect x="89.85" y="59.23" width="1.1" height="5.30"/><rect x="93.24" y="62.16" width="1.1" height="2.60"/><rect x="96.63" y="58.41" width="1.1" height="7.00"/><rect x="100.01" y="53.77" width="1.1" height="11.00"/><rect x="103.40" y="62.71" width="1.1" height="3.00"/><rect x="106.78" y="59.59" width="1.1" height="6.00"/><rect x="110.17" y="56.58" width="1.1" height="9.50"/><rect x="113.56" y="62.58" width="1.1" height="4.00"/><rect x="116.94" y="62.13" width="1.1" height="5.50"/><rect x="120.33" y="62.77" width="1.1" height="4.50"/><rect x="123.71" y="61.50" width="1.1" height="6.30"/><rect x="127.10" y="60.82" width="1.1" height="7.36"/><rect x="130.49" y="60.34" width="1.1" height="9.13"/><rect x="133.87" y="56.93" width="1.1" height="12.04"/><rect x="137.26" y="58.82" width="1.1" height="10.67"/><rect x="140.64" y="57.89" width="1.1" height="11.97"/><rect x="144.03" y="65.87" width="1.1" height="4.69"/><rect x="147.42" y="64.14" width="1.1" height="6.64"/><rect x="150.80" y="65.71" width="1.1" height="5.94"/><rect x="154.19" y="65.05" width="1.1" height="6.40"/><rect x="157.57" y="65.97" width="1.1" height="6.85"/><rect x="160.96" y="65.71" width="1.1" height="6.74"/><rect x="164.35" y="66.78" width="1.1" height="5.92"/><rect x="167.73" y="66.20" width="1.1" height="7.54"/><rect x="171.12" y="64.25" width="1.1" height="10.40"/><rect x="174.50" y="69.55" width="1.1" height="4.52"/><rect x="177.89" y="62.41" width="1.1" height="12.74"/><rect x="181.28" y="64.79" width="1.1" height="10.71"/><rect x="184.66" y="67.27" width="1.1" height="9.09"/><rect x="188.05" y="66.21" width="1.1" height="10.45"/><rect x="191.43" y="66.82" width="1.1" height="10.28"/><rect x="194.82" y="66.29" width="1.1" height="11.18"/><rect x="198.21" y="69.90" width="1.1" height="7.63"/><rect x="201.59" y="72.93" width="1.1" height="5.01"/><rect x="204.98" y="68.13" width="1.1" height="10.60"/><rect x="208.36" y="69.43" width="1.1" height="9.32"/><rect x="211.75" y="68.43" width="1.1" height="10.76"/><rect x="215.14" y="72.96" width="1.1" height="6.28"/><rect x="218.52" y="67.24" width="1.1" height="12.20"/><rect x="221.91" y="69.08" width="1.1" height="10.10"/><rect x="225.29" y="69.76" width="1.1" height="9.94"/><rect x="228.68" y="70.92" width="1.1" height="9.98"/><rect x="232.07" y="68.62" width="1.1" height="12.09"/><rect x="235.45" y="74.05" width="1.1" height="6.97"/><rect x="238.84" y="70.03" width="1.1" height="11.50"/><rect x="242.22" y="76.75" width="1.1" height="5.70"/><rect x="245.61" y="74.24" width="1.1" height="7.77"/><rect x="249.00" y="71.27" width="1.1" height="11.37"/><rect x="252.38" y="78.46" width="1.1" height="4.51"/><rect x="255.77" y="73.77" width="1.1" height="9.07"/><rect x="259.15" y="78.74" width="1.1" height="5.38"/><rect x="262.54" y="77.49" width="1.1" height="6.23"/><rect x="265.93" y="76.30" width="1.1" height="7.99"/><rect x="269.31" y="73.26" width="1.1" height="12.30"/><rect x="272.70" y="79.83" width="1.1" height="5.72"/><rect x="276.08" y="76.20" width="1.1" height="10.21"/><rect x="279.47" y="76.45" width="1.1" height="10.06"/><rect x="282.86" y="79.78" width="1.1" height="7.46"/><rect x="286.24" y="76.03" width="1.1" height="11.88"/><rect x="289.63" y="78.03" width="1.1" height="9.27"/><rect x="293.01" y="76.63" width="1.1" height="11.29"/><rect x="296.40" y="79.56" width="1.1" height="9.36"/><rect x="299.79" y="79.75" width="1.1" height="9.22"/><rect x="303.17" y="76.80" width="1.1" height="11.87"/><rect x="306.56" y="82.85" width="1.1" height="6.54"/><rect x="309.94" y="85.48" width="1.1" height="4.61"/><rect x="313.33" y="82.28" width="1.1" height="7.76"/><rect x="316.72" y="80.53" width="1.1" height="10.14"/><rect x="320.10" y="85.46" width="1.1" height="4.96"/><rect x="323.49" y="80.65" width="1.1" height="10.31"/><rect x="326.87" y="80.72" width="1.1" height="11.07"/><rect x="330.26" y="85.24" width="1.1" height="6.01"/><rect x="333.65" y="81.85" width="1.1" height="10.25"/><rect x="337.03" y="81.77" width="1.1" height="10.29"/><rect x="340.42" y="81.02" width="1.1" height="11.27"/><rect x="343.80" y="85.10" width="1.1" height="7.97"/><rect x="347.19" y="82.12" width="1.1" height="11.34"/><rect x="350.58" y="85.34" width="1.1" height="8.23"/><rect x="353.96" y="86.20" width="1.1" height="8.06"/><rect x="357.35" y="88.94" width="1.1" height="5.99"/><rect x="360.73" y="87.00" width="1.1" height="7.29"/><rect x="364.12" y="89.18" width="1.1" height="6.40"/><rect x="367.51" y="90.66" width="1.1" height="4.94"/><rect x="370.89" y="89.52" width="1.1" height="5.73"/><rect x="374.28" y="89.21" width="1.1" height="6.76"/><rect x="377.66" y="91.15" width="1.1" height="4.93"/><rect x="381.05" y="88.45" width="1.1" height="8.19"/><rect x="384.44" y="88.97" width="1.1" height="8.20"/><rect x="387.82" y="88.25" width="1.1" height="9.10"/><rect x="391.21" y="87.61" width="1.1" height="10.89"/><rect x="394.59" y="87.41" width="1.1" height="11.34"/><rect x="397.98" y="92.77" width="1.1" height="5.84"/><rect x="401.37" y="93.63" width="1.1" height="6.06"/><rect x="404.75" y="88.34" width="1.1" height="10.98"/><rect x="408.14" y="92.85" width="1.1" height="7.49"/><rect x="411.52" y="89.93" width="1.1" height="9.88"/><rect x="414.91" y="92.86" width="1.1" height="8.48"/><rect x="418.30" y="95.21" width="1.1" height="5.96"/><rect x="421.68" y="91.85" width="1.1" height="9.32"/><rect x="425.07" y="96.04" width="1.1" height="6.22"/><rect x="428.45" y="89.84" width="1.1" height="13.26"/><rect x="431.84" y="93.54" width="1.1" height="9.15"/><rect x="435.23" y="93.66" width="1.1" height="9.88"/><rect x="438.61" y="92.45" width="1.1" height="11.95"/><rect x="442.00" y="91.97" width="1.1" height="12.44"/><rect x="445.38" y="94.73" width="1.1" height="10.21"/><rect x="448.77" y="94.09" width="1.1" height="12.21"/><rect x="452.16" y="95.31" width="1.1" height="11.20"/><rect x="455.54" y="99.76" width="1.1" height="7.76"/><rect x="458.93" y="94.44" width="1.1" height="13.51"/><rect x="462.31" y="108.87" width="1.1" height="12.34"/><rect x="465.70" y="109.47" width="1.1" height="12.68"/><rect x="469.09" y="109.73" width="1.1" height="5.14"/><rect x="472.47" y="112.69" width="1.1" height="6.88"/><rect x="475.86" y="115.68" width="1.1" height="10.11"/><rect x="479.24" y="117.90" width="1.1" height="12.06"/><rect x="482.63" y="121.32" width="1.1" height="11.70"/><rect x="486.02" y="122.74" width="1.1" height="5.91"/><rect x="489.40" y="122.85" width="1.1" height="6.75"/><rect x="492.79" y="125.16" width="1.1" height="7.99"/><rect x="496.17" y="127.63" width="1.1" height="11.22"/><rect x="499.56" y="129.49" width="1.1" height="8.13"/><rect x="502.95" y="129.15" width="1.1" height="4.82"/></g>
<g fill="#444444"><rect x="41.80" y="42.80" width="2.4" height="1.2"/><rect x="45.19" y="51.80" width="2.4" height="1.2"/><rect x="48.57" y="43.60" width="2.4" height="1.2"/><rect x="51.96" y="48.69" width="2.4" height="1.2"/><rect x="55.34" y="49.36" width="2.4" height="1.2"/><rect x="58.73" y="50.53" width="2.4" height="1.2"/><rect x="62.12" y="52.53" width="2.4" height="1.2"/><rect x="65.50" y="50.70" width="2.4" height="1.2"/><rect x="68.89" y="51.68" width="2.4" height="1.2"/><rect x="72.27" y="53.87" width="2.4" height="1.2"/><rect x="75.66" y="52.44" width="2.4" height="1.2"/><rect x="79.05" y="57.98" width="2.4" height="1.2"/><rect x="82.43" y="55.52" width="2.4" height="1.2"/><rect x="85.82" y="56.28" width="2.4" height="1.2"/><rect x="89.20" y="58.63" width="2.4" height="1.2"/><rect x="92.59" y="61.56" width="2.4" height="1.2"/><rect x="95.98" y="57.81" width="2.4" height="1.2"/><rect x="99.36" y="53.17" width="2.4" height="1.2"/><rect x="102.75" y="62.11" width="2.4" height="1.2"/><rect x="106.13" y="58.99" width="2.4" height="1.2"/><rect x="109.52" y="55.98" width="2.4" height="1.2"/><rect x="112.91" y="61.98" width="2.4" height="1.2"/><rect x="116.29" y="61.53" width="2.4" height="1.2"/><rect x="119.68" y="62.17" width="2.4" height="1.2"/><rect x="123.06" y="60.90" width="2.4" height="1.2"/><rect x="126.45" y="60.22" width="2.4" height="1.2"/><rect x="129.84" y="59.74" width="2.4" height="1.2"/><rect x="133.22" y="56.33" width="2.4" height="1.2"/><rect x="136.61" y="58.22" width="2.4" height="1.2"/><rect x="139.99" y="57.29" width="2.4" height="1.2"/><rect x="143.38" y="65.27" width="2.4" height="1.2"/><rect x="146.77" y="63.54" width="2.4" height="1.2"/><rect x="150.15" y="65.11" width="2.4" height="1.2"/><rect x="153.54" y="64.45" width="2.4" height="1.2"/><rect x="156.92" y="65.37" width="2.4" height="1.2"/><rect x="160.31" y="65.11" width="2.4" height="1.2"/><rect x="163.70" y="66.18" width="2.4" height="1.2"/><rect x="167.08" y="65.60" width="2.4" height="1.2"/><rect x="170.47" y="63.65" width="2.4" height="1.2"/><rect x="173.85" y="68.95" width="2.4" height="1.2"/><rect x="177.24" y="61.81" width="2.4" height="1.2"/><rect x="180.63" y="64.19" width="2.4" height="1.2"/><rect x="184.01" y="66.67" width="2.4" height="1.2"/><rect x="187.40" y="65.61" width="2.4" height="1.2"/><rect x="190.78" y="66.22" width="2.4" height="1.2"/><rect x="194.17" y="65.69" width="2.4" height="1.2"/><rect x="197.56" y="69.30" width="2.4" height="1.2"/><rect x="200.94" y="72.33" width="2.4" height="1.2"/><rect x="204.33" y="67.53" width="2.4" height="1.2"/><rect x="207.71" y="68.83" width="2.4" height="1.2"/><rect x="211.10" y="67.83" width="2.4" height="1.2"/><rect x="214.49" y="72.36" width="2.4" height="1.2"/><rect x="217.87" y="66.64" width="2.4" height="1.2"/><rect x="221.26" y="68.48" width="2.4" height="1.2"/><rect x="224.64" y="69.16" width="2.4" height="1.2"/><rect x="228.03" y="70.32" width="2.4" height="1.2"/><rect x="231.42" y="68.02" width="2.4" height="1.2"/><rect x="234.80" y="73.45" width="2.4" height="1.2"/><rect x="238.19" y="69.43" width="2.4" height="1.2"/><rect x="241.57" y="76.15" width="2.4" height="1.2"/><rect x="244.96" y="73.64" width="2.4" height="1.2"/><rect x="248.35" y="70.67" width="2.4" height="1.2"/><rect x="251.73" y="77.86" width="2.4" height="1.2"/><rect x="255.12" y="73.17" width="2.4" height="1.2"/><rect x="258.50" y="78.14" width="2.4" height="1.2"/><rect x="261.89" y="76.89" width="2.4" height="1.2"/><rect x="265.28" y="75.70" width="2.4" height="1.2"/><rect x="268.66" y="72.66" width="2.4" height="1.2"/><rect x="272.05" y="79.23" width="2.4" height="1.2"/><rect x="275.43" y="75.60" width="2.4" height="1.2"/><rect x="278.82" y="75.85" width="2.4" height="1.2"/><rect x="282.21" y="79.18" width="2.4" height="1.2"/><rect x="285.59" y="75.43" width="2.4" height="1.2"/><rect x="288.98" y="77.43" width="2.4" height="1.2"/><rect x="292.36" y="76.03" width="2.4" height="1.2"/><rect x="295.75" y="78.96" width="2.4" height="1.2"/><rect x="299.14" y="79.15" width="2.4" height="1.2"/><rect x="302.52" y="76.20" width="2.4" height="1.2"/><rect x="305.91" y="82.25" width="2.4" height="1.2"/><rect x="309.29" y="84.88" width="2.4" height="1.2"/><rect x="312.68" y="81.68" width="2.4" height="1.2"/><rect x="316.07" y="79.93" width="2.4" height="1.2"/><rect x="319.45" y="84.86" width="2.4" height="1.2"/><rect x="322.84" y="80.05" width="2.4" height="1.2"/><rect x="326.22" y="80.12" width="2.4" height="1.2"/><rect x="329.61" y="84.64" width="2.4" height="1.2"/><rect x="333.00" y="81.25" width="2.4" height="1.2"/><rect x="336.38" y="81.17" width="2.4" height="1.2"/><rect x="339.77" y="80.42" width="2.4" height="1.2"/><rect x="343.15" y="84.50" width="2.4" height="1.2"/><rect x="346.54" y="81.52" width="2.4" height="1.2"/><rect x="349.93" y="84.74" width="2.4" height="1.2"/><rect x="353.31" y="85.60" width="2.4" height="1.2"/><rect x="356.70" y="88.34" width="2.4" height="1.2"/><rect x="360.08" y="86.40" width="2.4" height="1.2"/><rect x="363.47" y="88.58" width="2.4" height="1.2"/><rect x="366.86" y="90.06" width="2.4" height="1.2"/><rect x="370.24" y="88.92" width="2.4" height="1.2"/><rect x="373.63" y="88.61" width="2.4" height="1.2"/><rect x="377.01" y="90.55" width="2.4" height="1.2"/><rect x="380.40" y="87.85" width="2.4" height="1.2"/><rect x="383.79" y="88.37" width="2.4" height="1.2"/><rect x="387.17" y="87.65" width="2.4" height="1.2"/><rect x="390.56" y="87.01" width="2.4" height="1.2"/><rect x="393.94" y="86.81" width="2.4" height="1.2"/><rect x="397.33" y="92.17" width="2.4" height="1.2"/><rect x="400.72" y="93.03" width="2.4" height="1.2"/><rect x="404.10" y="87.74" width="2.4" height="1.2"/><rect x="407.49" y="92.25" width="2.4" height="1.2"/><rect x="410.87" y="89.33" width="2.4" height="1.2"/><rect x="414.26" y="92.26" width="2.4" height="1.2"/><rect x="417.65" y="94.61" width="2.4" height="1.2"/><rect x="421.03" y="91.25" width="2.4" height="1.2"/><rect x="424.42" y="95.44" width="2.4" height="1.2"/><rect x="427.80" y="89.24" width="2.4" height="1.2"/><rect x="431.19" y="92.94" width="2.4" height="1.2"/><rect x="434.58" y="93.06" width="2.4" height="1.2"/><rect x="437.96" y="91.85" width="2.4" height="1.2"/><rect x="441.35" y="91.37" width="2.4" height="1.2"/><rect x="444.73" y="94.13" width="2.4" height="1.2"/><rect x="448.12" y="93.49" width="2.4" height="1.2"/><rect x="451.51" y="94.71" width="2.4" height="1.2"/><rect x="454.89" y="99.16" width="2.4" height="1.2"/><rect x="458.28" y="93.84" width="2.4" height="1.2"/><rect x="461.66" y="120.61" width="2.4" height="1.2"/><rect x="465.05" y="121.56" width="2.4" height="1.2"/><rect x="468.44" y="114.27" width="2.4" height="1.2"/><rect x="471.82" y="118.96" width="2.4" height="1.2"/><rect x="475.21" y="125.19" width="2.4" height="1.2"/><rect x="478.59" y="129.36" width="2.4" height="1.2"/><rect x="481.98" y="132.42" width="2.4" height="1.2"/><rect x="485.37" y="128.05" width="2.4" height="1.2"/><rect x="488.75" y="129.00" width="2.4" height="1.2"/><rect x="492.14" y="132.55" width="2.4" height="1.2"/><rect x="495.52" y="138.25" width="2.4" height="1.2"/><rect x="498.91" y="137.02" width="2.4" height="1.2"/><rect x="502.30" y="133.37" width="2.4" height="1.2"/></g>
<path d="M40 108.2H507" stroke="#444" stroke-width="0.8"/>
<rect x="39.5" y="19.5" width="468" height="145" fill="none" stroke="#6c6c6c" stroke-width="1"/>
<g fill="#222" font-family="Liberation Sans, sans-serif"><text x="38" y="29.1" text-anchor="end" font-size="6.5">2.5</text><text x="38" y="62.0" text-anchor="end" font-size="6.5">1.5</text><text x="38" y="94.9" text-anchor="end" font-size="6.5">0.5</text><text x="38" y="127.7" text-anchor="end" font-size="6.5">-0.5</text><text x="38" y="160.6" text-anchor="end" font-size="6.5">-1.5</text></g>
<rect x="456.5" y="23.5" width="48" height="27" fill="#fff" stroke="#555" stroke-width="1"/>
<rect x="460.5" y="25.5" width="18" height="6" fill="#c4c4c4" stroke="#555" stroke-width="0.8"/>
<rect x="460.5" y="34" width="18" height="6" fill="#fff" stroke="#555" stroke-width="0.8"/>
<rect x="460.5" y="42.5" width="18" height="6" fill="#3a3a3a" stroke="#333" stroke-width="0.8"/>
<text x="480" y="31.4" font-size="7" textLength="8.2" lengthAdjust="spacingAndGlyphs" fill="#222">AC</text><text x="480" y="39.9" font-size="7" textLength="17" lengthAdjust="spacingAndGlyphs" fill="#222">LSCC</text><text x="480" y="48.5" font-size="7" textLength="21.2" lengthAdjust="spacingAndGlyphs" fill="#222">NSCLC</text>
<text x="12" y="19.6" font-size="10" font-weight="bold" fill="#111">A</text>
<text transform="translate(22.6 93.3) rotate(-90)" x="0" y="0" font-size="7.2" font-weight="bold" text-anchor="middle" textLength="88.5" lengthAdjust="spacingAndGlyphs" fill="#111">Classification score &#177; SEM</text>
<text x="272.9" y="174.2" font-size="7.4" font-weight="bold" text-anchor="middle" textLength="55.5" lengthAdjust="spacingAndGlyphs" fill="#111">NSCLC samples</text>
<g stroke="#9c9c9c" stroke-width="1"><path d="M40 200.8H335"/><path d="M40 230.9H335"/><path d="M40 261.0H335"/><path d="M40 291.0H335"/><path d="M40 321.0H335"/></g>
<g fill="#d6d6d6"><rect x="44.41" y="217.00" width="3.22" height="29.00"/><rect x="50.84" y="222.00" width="3.22" height="24.00"/><rect x="76.57" y="234.44" width="3.22" height="11.56"/><rect x="86.22" y="242.97" width="3.22" height="3.03"/><rect x="182.70" y="246.00" width="3.22" height="16.51"/><rect x="218.07" y="246.00" width="3.22" height="20.35"/><rect x="240.58" y="246.00" width="3.22" height="23.72"/><rect x="259.88" y="246.00" width="3.22" height="27.21"/><rect x="263.10" y="246.00" width="3.22" height="27.80"/><rect x="301.69" y="246.00" width="3.22" height="44.45"/><rect x="314.55" y="246.00" width="3.22" height="50.06"/><rect x="317.77" y="246.00" width="3.22" height="51.61"/><rect x="320.98" y="246.00" width="3.22" height="54.70"/></g>
<g fill="#fafafa"><rect x="41.19" y="212.00" width="3.22" height="34.00"/><rect x="54.06" y="223.40" width="3.22" height="22.60"/><rect x="57.27" y="224.00" width="3.22" height="22.00"/><rect x="60.49" y="228.00" width="3.22" height="18.00"/><rect x="63.70" y="229.00" width="3.22" height="17.00"/><rect x="70.14" y="231.70" width="3.22" height="14.30"/><rect x="73.35" y="232.60" width="3.22" height="13.40"/><rect x="79.78" y="237.48" width="3.22" height="8.52"/><rect x="83.00" y="240.35" width="3.22" height="5.65"/><rect x="89.43" y="245.66" width="3.22" height="0.34"/><rect x="92.65" y="246.00" width="3.22" height="0.22"/><rect x="95.86" y="246.00" width="3.22" height="0.11"/><rect x="99.08" y="246.00" width="3.22" height="1.43"/><rect x="102.30" y="246.00" width="3.22" height="2.22"/><rect x="108.73" y="246.00" width="3.22" height="3.59"/><rect x="115.16" y="246.00" width="3.22" height="6.07"/><rect x="118.38" y="246.00" width="3.22" height="6.70"/><rect x="121.59" y="246.00" width="3.22" height="7.45"/><rect x="124.81" y="246.00" width="3.22" height="8.51"/><rect x="128.02" y="246.00" width="3.22" height="9.09"/><rect x="131.24" y="246.00" width="3.22" height="9.90"/><rect x="137.67" y="246.00" width="3.22" height="10.93"/><rect x="140.89" y="246.00" width="3.22" height="10.99"/><rect x="144.10" y="246.00" width="3.22" height="12.22"/><rect x="147.32" y="246.00" width="3.22" height="12.19"/><rect x="150.54" y="246.00" width="3.22" height="13.66"/><rect x="156.97" y="246.00" width="3.22" height="14.10"/><rect x="160.18" y="246.00" width="3.22" height="14.25"/><rect x="163.40" y="246.00" width="3.22" height="14.00"/><rect x="166.62" y="246.00" width="3.22" height="15.15"/><rect x="169.83" y="246.00" width="3.22" height="14.93"/><rect x="173.05" y="246.00" width="3.22" height="15.28"/><rect x="176.26" y="246.00" width="3.22" height="15.76"/><rect x="179.48" y="246.00" width="3.22" height="15.63"/><rect x="185.91" y="246.00" width="3.22" height="16.96"/><rect x="189.13" y="246.00" width="3.22" height="17.67"/><rect x="192.34" y="246.00" width="3.22" height="17.08"/><rect x="195.56" y="246.00" width="3.22" height="17.58"/><rect x="198.78" y="246.00" width="3.22" height="18.25"/><rect x="205.21" y="246.00" width="3.22" height="19.70"/><rect x="211.64" y="246.00" width="3.22" height="19.90"/><rect x="214.86" y="246.00" width="3.22" height="20.75"/><rect x="221.29" y="246.00" width="3.22" height="21.13"/><rect x="224.50" y="246.00" width="3.22" height="22.08"/><rect x="227.72" y="246.00" width="3.22" height="22.37"/><rect x="230.94" y="246.00" width="3.22" height="23.08"/><rect x="234.15" y="246.00" width="3.22" height="23.26"/><rect x="237.37" y="246.00" width="3.22" height="23.63"/><rect x="250.23" y="246.00" width="3.22" height="25.30"/><rect x="253.45" y="246.00" width="3.22" height="26.57"/><rect x="256.66" y="246.00" width="3.22" height="26.78"/><rect x="266.31" y="246.00" width="3.22" height="29.45"/><rect x="269.53" y="246.00" width="3.22" height="29.57"/><rect x="272.74" y="246.00" width="3.22" height="30.91"/><rect x="275.96" y="246.00" width="3.22" height="31.25"/><rect x="279.18" y="246.00" width="3.22" height="32.63"/><rect x="282.39" y="246.00" width="3.22" height="34.36"/><rect x="285.61" y="246.00" width="3.22" height="35.50"/><rect x="288.82" y="246.00" width="3.22" height="37.59"/><rect x="295.26" y="246.00" width="3.22" height="40.21"/><rect x="298.47" y="246.00" width="3.22" height="41.88"/><rect x="308.12" y="246.00" width="3.22" height="46.96"/><rect x="311.34" y="246.00" width="3.22" height="48.38"/><rect x="324.20" y="246.00" width="3.22" height="55.81"/><rect x="327.42" y="246.00" width="3.22" height="58.69"/><rect x="330.63" y="246.00" width="3.22" height="72.01"/></g>
<g fill="#c8c8c8"><rect x="41.19" y="212.00" width="3.22" height="5.87"/><rect x="44.41" y="217.00" width="3.22" height="5.19"/><rect x="50.84" y="222.00" width="3.22" height="7.29"/><rect x="54.06" y="223.40" width="3.22" height="3.48"/><rect x="57.27" y="224.00" width="3.22" height="4.20"/><rect x="60.49" y="228.00" width="3.22" height="5.23"/><rect x="63.70" y="229.00" width="3.22" height="6.26"/><rect x="70.14" y="231.70" width="3.22" height="4.01"/><rect x="73.35" y="232.60" width="3.22" height="6.06"/><rect x="76.57" y="234.44" width="3.22" height="3.79"/><rect x="79.78" y="237.48" width="3.22" height="5.07"/><rect x="83.00" y="240.35" width="3.22" height="5.65"/><rect x="86.22" y="242.97" width="3.22" height="3.03"/><rect x="89.43" y="245.66" width="3.22" height="0.34"/><rect x="92.65" y="246.00" width="3.22" height="0.22"/><rect x="95.86" y="246.00" width="3.22" height="0.11"/><rect x="99.08" y="246.00" width="3.22" height="1.43"/><rect x="102.30" y="246.00" width="3.22" height="2.22"/><rect x="108.73" y="246.00" width="3.22" height="3.59"/><rect x="115.16" y="246.00" width="3.22" height="6.07"/><rect x="118.38" y="246.00" width="3.22" height="6.70"/><rect x="121.59" y="246.00" width="3.22" height="7.45"/><rect x="124.81" y="246.35" width="3.22" height="8.16"/><rect x="128.02" y="250.03" width="3.22" height="5.06"/><rect x="131.24" y="248.40" width="3.22" height="7.50"/><rect x="137.67" y="250.44" width="3.22" height="6.49"/><rect x="140.89" y="251.66" width="3.22" height="5.33"/><rect x="144.10" y="251.54" width="3.22" height="6.67"/><rect x="147.32" y="252.44" width="3.22" height="5.75"/><rect x="150.54" y="254.14" width="3.22" height="5.51"/><rect x="156.97" y="253.27" width="3.22" height="6.83"/><rect x="160.18" y="253.91" width="3.22" height="6.33"/><rect x="163.40" y="252.83" width="3.22" height="7.18"/><rect x="166.62" y="255.72" width="3.22" height="5.44"/><rect x="169.83" y="254.59" width="3.22" height="6.34"/><rect x="173.05" y="254.92" width="3.22" height="6.36"/><rect x="176.26" y="257.61" width="3.22" height="4.15"/><rect x="179.48" y="255.95" width="3.22" height="5.68"/><rect x="182.70" y="258.30" width="3.22" height="4.20"/><rect x="185.91" y="257.21" width="3.22" height="5.74"/><rect x="189.13" y="256.13" width="3.22" height="7.54"/><rect x="192.34" y="258.87" width="3.22" height="4.21"/><rect x="195.56" y="259.14" width="3.22" height="4.44"/><rect x="198.78" y="260.82" width="3.22" height="3.44"/><rect x="205.21" y="262.70" width="3.22" height="3.00"/><rect x="211.64" y="259.70" width="3.22" height="6.19"/><rect x="214.86" y="261.87" width="3.22" height="4.88"/><rect x="218.07" y="261.15" width="3.22" height="5.20"/><rect x="221.29" y="261.55" width="3.22" height="5.58"/><rect x="224.50" y="263.05" width="3.22" height="5.03"/><rect x="227.72" y="262.93" width="3.22" height="5.44"/><rect x="230.94" y="265.48" width="3.22" height="3.60"/><rect x="234.15" y="265.91" width="3.22" height="3.36"/><rect x="237.37" y="265.36" width="3.22" height="4.27"/><rect x="240.58" y="265.49" width="3.22" height="4.23"/><rect x="250.23" y="265.10" width="3.22" height="6.20"/><rect x="253.45" y="267.49" width="3.22" height="5.09"/><rect x="256.66" y="265.80" width="3.22" height="6.98"/><rect x="259.88" y="267.65" width="3.22" height="5.56"/><rect x="263.10" y="270.58" width="3.22" height="3.22"/><rect x="266.31" y="269.45" width="3.22" height="6.00"/><rect x="269.53" y="271.73" width="3.22" height="3.84"/><rect x="272.74" y="273.06" width="3.22" height="3.85"/><rect x="275.96" y="273.26" width="3.22" height="4.00"/><rect x="279.18" y="272.82" width="3.22" height="5.81"/><rect x="282.39" y="274.94" width="3.22" height="5.41"/><rect x="285.61" y="276.72" width="3.22" height="4.78"/><rect x="288.82" y="279.23" width="3.22" height="4.37"/><rect x="295.26" y="279.76" width="3.22" height="6.45"/><rect x="298.47" y="283.27" width="3.22" height="4.61"/><rect x="301.69" y="286.54" width="3.22" height="3.92"/><rect x="308.12" y="286.94" width="3.22" height="6.02"/><rect x="311.34" y="290.27" width="3.22" height="4.10"/><rect x="314.55" y="291.71" width="3.22" height="4.35"/><rect x="317.77" y="293.74" width="3.22" height="3.87"/><rect x="320.98" y="294.68" width="3.22" height="6.02"/><rect x="324.20" y="296.23" width="3.22" height="5.58"/><rect x="327.42" y="300.57" width="3.22" height="4.13"/><rect x="330.63" y="313.11" width="3.22" height="4.90"/></g>
<path d="M41.19 212.00V246.00M44.41 212.00V246.00M44.41 217.00V246.00M47.62 217.00V246.00M47.62 221.50V246.00M50.84 221.50V246.00M50.84 222.00V246.00M54.06 222.00V246.00M54.06 223.40V246.00M57.27 223.40V246.00M57.27 224.00V246.00M60.49 224.00V246.00M60.49 228.00V246.00M63.70 228.00V246.00M63.70 229.00V246.00M66.92 229.00V246.00M66.92 231.00V246.00M70.14 231.00V246.00M70.14 231.70V246.00M73.35 231.70V246.00M73.35 232.60V246.00M76.57 232.60V246.00M76.57 234.44V246.00M79.78 234.44V246.00M79.78 237.48V246.00M83.00 237.48V246.00M83.00 240.35V246.00M86.22 240.35V246.00M86.22 242.97V246.00M89.43 242.97V246.00M89.43 245.66V246.00M92.65 245.66V246.00M92.65 246.00V246.22M95.86 246.00V246.22M95.86 246.00V246.11M99.08 246.00V246.11M99.08 246.00V247.43M102.30 246.00V247.43M102.30 246.00V248.22M105.51 246.00V248.22M105.51 246.00V249.71M108.73 246.00V249.71M108.73 246.00V249.59M111.94 246.00V249.59M111.94 246.00V251.61M115.16 246.00V251.61M115.16 246.00V252.07M118.38 246.00V252.07M118.38 246.00V252.70M121.59 246.00V252.70M121.59 246.00V253.45M124.81 246.00V253.45M124.81 246.00V254.51M128.02 246.00V254.51M128.02 246.00V255.09M131.24 246.00V255.09M131.24 246.00V255.90M134.46 246.00V255.90M134.46 246.00V255.74M137.67 246.00V255.74M137.67 246.00V256.93M140.89 246.00V256.93M140.89 246.00V256.99M144.10 246.00V256.99M144.10 246.00V258.22M147.32 246.00V258.22M147.32 246.00V258.19M150.54 246.00V258.19M150.54 246.00V259.66M153.75 246.00V259.66M153.75 246.00V259.48M156.97 246.00V259.48M156.97 246.00V260.10M160.18 246.00V260.10M160.18 246.00V260.25M163.40 246.00V260.25M163.40 246.00V260.00M166.62 246.00V260.00M166.62 246.00V261.15M169.83 246.00V261.15M169.83 246.00V260.93M173.05 246.00V260.93M173.05 246.00V261.28M176.26 246.00V261.28M176.26 246.00V261.76M179.48 246.00V261.76M179.48 246.00V261.63M182.70 246.00V261.63M182.70 246.00V262.51M185.91 246.00V262.51M185.91 246.00V262.96M189.13 246.00V262.96M189.13 246.00V263.67M192.34 246.00V263.67M192.34 246.00V263.08M195.56 246.00V263.08M195.56 246.00V263.58M198.78 246.00V263.58M198.78 246.00V264.25M201.99 246.00V264.25M201.99 246.00V265.25M205.21 246.00V265.25M205.21 246.00V265.70M208.42 246.00V265.70M208.42 246.00V265.64M211.64 246.00V265.64M211.64 246.00V265.90M214.86 246.00V265.90M214.86 246.00V266.75M218.07 246.00V266.75M218.07 246.00V266.35M221.29 246.00V266.35M221.29 246.00V267.13M224.50 246.00V267.13M224.50 246.00V268.08M227.72 246.00V268.08M227.72 246.00V268.37M230.94 246.00V268.37M230.94 246.00V269.08M234.15 246.00V269.08M234.15 246.00V269.26M237.37 246.00V269.26M237.37 246.00V269.63M240.58 246.00V269.63M240.58 246.00V269.72M243.80 246.00V269.72M243.80 246.00V270.70M247.02 246.00V270.70M247.02 246.00V270.49M250.23 246.00V270.49M250.23 246.00V271.30M253.45 246.00V271.30M253.45 246.00V272.57M256.66 246.00V272.57M256.66 246.00V272.78M259.88 246.00V272.78M259.88 246.00V273.21M263.10 246.00V273.21M263.10 246.00V273.80M266.31 246.00V273.80M266.31 246.00V275.45M269.53 246.00V275.45M269.53 246.00V275.57M272.74 246.00V275.57M272.74 246.00V276.91M275.96 246.00V276.91M275.96 246.00V277.25M279.18 246.00V277.25M279.18 246.00V278.63M282.39 246.00V278.63M282.39 246.00V280.36M285.61 246.00V280.36M285.61 246.00V281.50M288.82 246.00V281.50M288.82 246.00V283.59M292.04 246.00V283.59M292.04 246.00V285.26M295.26 246.00V285.26M295.26 246.00V286.21M298.47 246.00V286.21M298.47 246.00V287.88M301.69 246.00V287.88M301.69 246.00V290.45M304.90 246.00V290.45M304.90 246.00V291.96M308.12 246.00V291.96M308.12 246.00V292.96M311.34 246.00V292.96M311.34 246.00V294.38M314.55 246.00V294.38M314.55 246.00V296.06M317.77 246.00V296.06M317.77 246.00V297.61M320.98 246.00V297.61M320.98 246.00V300.70M324.20 246.00V300.70M324.20 246.00V301.81M327.42 246.00V301.81M327.42 246.00V304.69M330.63 246.00V304.69M330.63 246.00V318.01M333.85 246.00V318.01" stroke="#727272" stroke-width="1.0" fill="none"/>
<g fill="#2e2e2e"><rect x="47.62" y="221.50" width="3.22" height="24.50"/><rect x="66.92" y="231.00" width="3.22" height="15.00"/><rect x="105.51" y="246.00" width="3.22" height="3.71"/><rect x="111.94" y="246.00" width="3.22" height="5.61"/><rect x="134.46" y="246.00" width="3.22" height="9.74"/><rect x="153.75" y="246.00" width="3.22" height="13.48"/><rect x="201.99" y="246.00" width="3.22" height="19.25"/><rect x="208.42" y="246.00" width="3.22" height="19.64"/><rect x="243.80" y="246.00" width="3.22" height="24.70"/><rect x="247.02" y="246.00" width="3.22" height="24.49"/><rect x="292.04" y="246.00" width="3.22" height="39.26"/><rect x="304.90" y="246.00" width="3.22" height="45.96"/></g>
<path d="M42.80 212.00V223.00M46.02 217.00V226.40M52.45 222.00V231.30M55.66 223.40V228.80M58.88 224.00V229.50M62.10 228.00V234.50M65.31 229.00V239.00M71.74 231.70V238.70M74.96 232.60V243.09M78.18 234.44V240.66M81.39 237.48V245.30M84.61 240.35V250.63M87.82 242.97V253.28M91.04 245.66V254.66M94.26 246.22V239.30M97.47 246.11V239.98M100.69 247.43V237.00M103.90 248.22V238.10M110.34 249.59V242.51M116.77 252.07V243.08M119.98 252.70V241.74M123.20 253.45V242.98M126.42 254.51V244.70M129.63 255.09V247.47M132.85 255.90V246.87M139.28 256.93V249.56M142.50 256.99V248.01M145.71 258.22V249.74M148.93 258.19V247.87M152.14 259.66V249.97M158.58 260.10V250.56M161.79 260.25V252.88M165.01 260.00V249.74M168.22 261.15V252.34M171.44 260.93V253.76M174.66 261.28V253.58M177.87 261.76V254.97M181.09 261.63V254.88M184.30 262.51V254.84M187.52 262.96V253.44M190.74 263.67V253.66M193.95 263.08V256.55M197.17 263.58V258.00M200.38 264.25V257.79M206.82 265.70V259.79M213.25 265.90V258.23M216.46 266.75V259.01M219.68 266.35V257.42M222.90 267.13V259.31M226.11 268.08V261.46M229.33 268.37V262.00M232.54 269.08V263.56M235.76 269.26V264.16M238.98 269.63V262.32M242.19 269.72V263.41M251.84 271.30V262.82M255.06 272.57V264.99M258.27 272.78V263.65M261.49 273.21V264.74M264.70 273.80V268.89M267.92 275.45V267.63M271.14 275.57V268.26M274.35 276.91V269.90M277.57 277.25V271.97M280.78 278.63V270.81M284.00 280.36V274.28M287.22 281.50V274.85M290.43 283.59V275.01M296.86 286.21V277.79M300.08 287.88V279.42M303.30 290.45V285.67M309.73 292.96V286.25M312.94 294.38V289.21M316.16 296.06V288.44M319.38 297.61V290.66M322.59 300.70V293.21M325.81 301.81V294.41M329.02 304.69V299.07M332.24 318.01V312.19" stroke="#8a8a8a" stroke-width="0.8" fill="none"/>
<path d="M42.00 223.00H43.60M45.22 226.40H46.82M51.65 231.30H53.25M54.86 228.80H56.46M58.08 229.50H59.68M61.30 234.50H62.90M64.51 239.00H66.11M70.94 238.70H72.54M74.16 243.09H75.76M77.38 240.66H78.98M80.59 245.30H82.19M83.81 250.63H85.41M87.02 253.28H88.62M90.24 254.66H91.84M93.46 239.30H95.06M96.67 239.98H98.27M99.89 237.00H101.49M103.10 238.10H104.70M109.54 242.51H111.14M115.97 243.08H117.57M119.18 241.74H120.78M122.40 242.98H124.00M125.62 244.70H127.22M128.83 247.47H130.43M132.05 246.87H133.65M138.48 249.56H140.08M141.70 248.01H143.30M144.91 249.74H146.51M148.13 247.87H149.73M151.34 249.97H152.94M157.78 250.56H159.38M160.99 252.88H162.59M164.21 249.74H165.81M167.42 252.34H169.02M170.64 253.76H172.24M173.86 253.58H175.46M177.07 254.97H178.67M180.29 254.88H181.89M183.50 254.84H185.10M186.72 253.44H188.32M189.94 253.66H191.54M193.15 256.55H194.75M196.37 258.00H197.97M199.58 257.79H201.18M206.02 259.79H207.62M212.45 258.23H214.05M215.66 259.01H217.26M218.88 257.42H220.48M222.10 259.31H223.70M225.31 261.46H226.91M228.53 262.00H230.13M231.74 263.56H233.34M234.96 264.16H236.56M238.18 262.32H239.78M241.39 263.41H242.99M251.04 262.82H252.64M254.26 264.99H255.86M257.47 263.65H259.07M260.69 264.74H262.29M263.90 268.89H265.50M267.12 267.63H268.72M270.34 268.26H271.94M273.55 269.90H275.15M276.77 271.97H278.37M279.98 270.81H281.58M283.20 274.28H284.80M286.42 274.85H288.02M289.63 275.01H291.23M296.06 277.79H297.66M299.28 279.42H300.88M302.50 285.67H304.10M308.93 286.25H310.53M312.14 289.21H313.74M315.36 288.44H316.96M318.58 290.66H320.18M321.79 293.21H323.39M325.01 294.41H326.61M328.22 299.07H329.82M331.44 312.19H333.04" stroke="#7a7a7a" stroke-width="0.8" fill="none"/>
<path d="M41.19 212.00H44.41M44.41 217.00H47.62M47.62 221.50H50.84M50.84 222.00H54.06M54.06 223.40H57.27M57.27 224.00H60.49M60.49 228.00H63.70M63.70 229.00H66.92M66.92 231.00H70.14M70.14 231.70H73.35M73.35 232.60H76.57M76.57 234.44H79.78M79.78 237.48H83.00M83.00 240.35H86.22M86.22 242.97H89.43M89.43 245.66H92.65M92.65 246.22H95.86M95.86 246.11H99.08M99.08 247.43H102.30M102.30 248.22H105.51M105.51 249.71H108.73M108.73 249.59H111.94M111.94 251.61H115.16M115.16 252.07H118.38M118.38 252.70H121.59M121.59 253.45H124.81M124.81 254.51H128.02M128.02 255.09H131.24M131.24 255.90H134.46M134.46 255.74H137.67M137.67 256.93H140.89M140.89 256.99H144.10M144.10 258.22H147.32M147.32 258.19H150.54M150.54 259.66H153.75M153.75 259.48H156.97M156.97 260.10H160.18M160.18 260.25H163.40M163.40 260.00H166.62M166.62 261.15H169.83M169.83 260.93H173.05M173.05 261.28H176.26M176.26 261.76H179.48M179.48 261.63H182.70M182.70 262.51H185.91M185.91 262.96H189.13M189.13 263.67H192.34M192.34 263.08H195.56M195.56 263.58H198.78M198.78 264.25H201.99M201.99 265.25H205.21M205.21 265.70H208.42M208.42 265.64H211.64M211.64 265.90H214.86M214.86 266.75H218.07M218.07 266.35H221.29M221.29 267.13H224.50M224.50 268.08H227.72M227.72 268.37H230.94M230.94 269.08H234.15M234.15 269.26H237.37M237.37 269.63H240.58M240.58 269.72H243.80M243.80 270.70H247.02M247.02 270.49H250.23M250.23 271.30H253.45M253.45 272.57H256.66M256.66 272.78H259.88M259.88 273.21H263.10M263.10 273.80H266.31M266.31 275.45H269.53M269.53 275.57H272.74M272.74 276.91H275.96M275.96 277.25H279.18M279.18 278.63H282.39M282.39 280.36H285.61M285.61 281.50H288.82M288.82 283.59H292.04M292.04 285.26H295.26M295.26 286.21H298.47M298.47 287.88H301.69M301.69 290.45H304.90M304.90 291.96H308.12M308.12 292.96H311.34M311.34 294.38H314.55M314.55 296.06H317.77M317.77 297.61H320.98M320.98 300.70H324.20M324.20 301.81H327.42M327.42 304.69H330.63M330.63 318.01H333.85" stroke="#404040" stroke-width="0.9" fill="none"/>
<g fill="#888888"><rect x="42.25" y="201.00" width="1.1" height="11.00"/><rect x="45.47" y="207.60" width="1.1" height="9.40"/><rect x="48.68" y="215.00" width="1.1" height="6.50"/><rect x="51.90" y="212.70" width="1.1" height="9.30"/><rect x="55.11" y="218.00" width="1.1" height="5.40"/><rect x="58.33" y="218.50" width="1.1" height="5.50"/><rect x="61.55" y="221.50" width="1.1" height="6.50"/><rect x="64.76" y="219.00" width="1.1" height="10.00"/><rect x="67.98" y="222.60" width="1.1" height="8.40"/><rect x="71.19" y="224.70" width="1.1" height="7.00"/><rect x="74.41" y="222.11" width="1.1" height="10.49"/><rect x="77.63" y="228.23" width="1.1" height="6.21"/><rect x="80.84" y="229.66" width="1.1" height="7.82"/><rect x="84.06" y="230.08" width="1.1" height="10.28"/><rect x="87.27" y="232.66" width="1.1" height="10.31"/><rect x="90.49" y="236.66" width="1.1" height="9.00"/><rect x="93.71" y="246.22" width="1.1" height="6.92"/><rect x="96.92" y="246.11" width="1.1" height="6.13"/><rect x="100.14" y="247.43" width="1.1" height="10.43"/><rect x="103.35" y="248.22" width="1.1" height="10.12"/><rect x="106.57" y="249.71" width="1.1" height="8.07"/><rect x="109.79" y="249.59" width="1.1" height="7.08"/><rect x="113.00" y="251.61" width="1.1" height="7.19"/><rect x="116.22" y="252.07" width="1.1" height="8.99"/><rect x="119.43" y="252.70" width="1.1" height="10.95"/><rect x="122.65" y="253.45" width="1.1" height="10.48"/><rect x="125.87" y="254.51" width="1.1" height="9.81"/><rect x="129.08" y="255.09" width="1.1" height="7.62"/><rect x="132.30" y="255.90" width="1.1" height="9.02"/><rect x="135.51" y="255.74" width="1.1" height="9.47"/><rect x="138.73" y="256.93" width="1.1" height="7.37"/><rect x="141.95" y="256.99" width="1.1" height="8.98"/><rect x="145.16" y="258.22" width="1.1" height="8.47"/><rect x="148.38" y="258.19" width="1.1" height="10.32"/><rect x="151.59" y="259.66" width="1.1" height="9.68"/><rect x="154.81" y="259.48" width="1.1" height="8.19"/><rect x="158.03" y="260.10" width="1.1" height="9.54"/><rect x="161.24" y="260.25" width="1.1" height="7.37"/><rect x="164.46" y="260.00" width="1.1" height="10.27"/><rect x="167.67" y="261.15" width="1.1" height="8.82"/><rect x="170.89" y="260.93" width="1.1" height="7.17"/><rect x="174.11" y="261.28" width="1.1" height="7.69"/><rect x="177.32" y="261.76" width="1.1" height="6.79"/><rect x="180.54" y="261.63" width="1.1" height="6.76"/><rect x="183.75" y="262.51" width="1.1" height="7.67"/><rect x="186.97" y="262.96" width="1.1" height="9.51"/><rect x="190.19" y="263.67" width="1.1" height="10.01"/><rect x="193.40" y="263.08" width="1.1" height="6.53"/><rect x="196.62" y="263.58" width="1.1" height="5.58"/><rect x="199.83" y="264.25" width="1.1" height="6.47"/><rect x="203.05" y="265.25" width="1.1" height="8.13"/><rect x="206.27" y="265.70" width="1.1" height="5.91"/><rect x="209.48" y="265.64" width="1.1" height="5.69"/><rect x="212.70" y="265.90" width="1.1" height="7.66"/><rect x="215.91" y="266.75" width="1.1" height="7.74"/><rect x="219.13" y="266.35" width="1.1" height="8.93"/><rect x="222.35" y="267.13" width="1.1" height="7.82"/><rect x="225.56" y="268.08" width="1.1" height="6.62"/><rect x="228.78" y="268.37" width="1.1" height="6.37"/><rect x="231.99" y="269.08" width="1.1" height="5.52"/><rect x="235.21" y="269.26" width="1.1" height="5.10"/><rect x="238.43" y="269.63" width="1.1" height="7.31"/><rect x="241.64" y="269.72" width="1.1" height="6.30"/><rect x="244.86" y="270.70" width="1.1" height="7.51"/><rect x="248.07" y="270.49" width="1.1" height="6.26"/><rect x="251.29" y="271.30" width="1.1" height="8.49"/><rect x="254.51" y="272.57" width="1.1" height="7.58"/><rect x="257.72" y="272.78" width="1.1" height="9.13"/><rect x="260.94" y="273.21" width="1.1" height="8.48"/><rect x="264.15" y="273.80" width="1.1" height="4.91"/><rect x="267.37" y="275.45" width="1.1" height="7.81"/><rect x="270.59" y="275.57" width="1.1" height="7.31"/><rect x="273.80" y="276.91" width="1.1" height="7.02"/><rect x="277.02" y="277.25" width="1.1" height="5.28"/><rect x="280.23" y="278.63" width="1.1" height="7.82"/><rect x="283.45" y="280.36" width="1.1" height="6.07"/><rect x="286.67" y="281.50" width="1.1" height="6.65"/><rect x="289.88" y="283.59" width="1.1" height="8.58"/><rect x="293.10" y="285.26" width="1.1" height="6.90"/><rect x="296.31" y="286.21" width="1.1" height="8.42"/><rect x="299.53" y="287.88" width="1.1" height="8.46"/><rect x="302.75" y="290.45" width="1.1" height="4.79"/><rect x="305.96" y="291.96" width="1.1" height="8.31"/><rect x="309.18" y="292.96" width="1.1" height="6.71"/><rect x="312.39" y="294.38" width="1.1" height="5.17"/><rect x="315.61" y="296.06" width="1.1" height="7.62"/><rect x="318.83" y="297.61" width="1.1" height="6.95"/><rect x="322.04" y="300.70" width="1.1" height="7.49"/><rect x="325.26" y="301.81" width="1.1" height="7.40"/><rect x="328.47" y="304.69" width="1.1" height="5.63"/><rect x="331.69" y="318.01" width="1.1" height="5.83"/></g>
<g fill="#444444"><rect x="41.60" y="200.40" width="2.4" height="1.2"/><rect x="44.82" y="207.00" width="2.4" height="1.2"/><rect x="48.03" y="214.40" width="2.4" height="1.2"/><rect x="51.25" y="212.10" width="2.4" height="1.2"/><rect x="54.46" y="217.40" width="2.4" height="1.2"/><rect x="57.68" y="217.90" width="2.4" height="1.2"/><rect x="60.90" y="220.90" width="2.4" height="1.2"/><rect x="64.11" y="218.40" width="2.4" height="1.2"/><rect x="67.33" y="222.00" width="2.4" height="1.2"/><rect x="70.54" y="224.10" width="2.4" height="1.2"/><rect x="73.76" y="221.51" width="2.4" height="1.2"/><rect x="76.98" y="227.63" width="2.4" height="1.2"/><rect x="80.19" y="229.06" width="2.4" height="1.2"/><rect x="83.41" y="229.48" width="2.4" height="1.2"/><rect x="86.62" y="232.06" width="2.4" height="1.2"/><rect x="89.84" y="236.06" width="2.4" height="1.2"/><rect x="93.06" y="252.54" width="2.4" height="1.2"/><rect x="96.27" y="251.64" width="2.4" height="1.2"/><rect x="99.49" y="257.26" width="2.4" height="1.2"/><rect x="102.70" y="257.74" width="2.4" height="1.2"/><rect x="105.92" y="257.18" width="2.4" height="1.2"/><rect x="109.14" y="256.07" width="2.4" height="1.2"/><rect x="112.35" y="258.19" width="2.4" height="1.2"/><rect x="115.57" y="260.46" width="2.4" height="1.2"/><rect x="118.78" y="263.05" width="2.4" height="1.2"/><rect x="122.00" y="263.33" width="2.4" height="1.2"/><rect x="125.22" y="263.72" width="2.4" height="1.2"/><rect x="128.43" y="262.12" width="2.4" height="1.2"/><rect x="131.65" y="264.32" width="2.4" height="1.2"/><rect x="134.86" y="264.61" width="2.4" height="1.2"/><rect x="138.08" y="263.69" width="2.4" height="1.2"/><rect x="141.30" y="265.37" width="2.4" height="1.2"/><rect x="144.51" y="266.09" width="2.4" height="1.2"/><rect x="147.73" y="267.91" width="2.4" height="1.2"/><rect x="150.94" y="268.74" width="2.4" height="1.2"/><rect x="154.16" y="267.07" width="2.4" height="1.2"/><rect x="157.38" y="269.03" width="2.4" height="1.2"/><rect x="160.59" y="267.01" width="2.4" height="1.2"/><rect x="163.81" y="269.67" width="2.4" height="1.2"/><rect x="167.02" y="269.37" width="2.4" height="1.2"/><rect x="170.24" y="267.50" width="2.4" height="1.2"/><rect x="173.46" y="268.37" width="2.4" height="1.2"/><rect x="176.67" y="267.95" width="2.4" height="1.2"/><rect x="179.89" y="267.79" width="2.4" height="1.2"/><rect x="183.10" y="269.57" width="2.4" height="1.2"/><rect x="186.32" y="271.87" width="2.4" height="1.2"/><rect x="189.54" y="273.08" width="2.4" height="1.2"/><rect x="192.75" y="269.00" width="2.4" height="1.2"/><rect x="195.97" y="268.56" width="2.4" height="1.2"/><rect x="199.18" y="270.12" width="2.4" height="1.2"/><rect x="202.40" y="272.78" width="2.4" height="1.2"/><rect x="205.62" y="271.01" width="2.4" height="1.2"/><rect x="208.83" y="270.73" width="2.4" height="1.2"/><rect x="212.05" y="272.96" width="2.4" height="1.2"/><rect x="215.26" y="273.89" width="2.4" height="1.2"/><rect x="218.48" y="274.68" width="2.4" height="1.2"/><rect x="221.70" y="274.35" width="2.4" height="1.2"/><rect x="224.91" y="274.10" width="2.4" height="1.2"/><rect x="228.13" y="274.14" width="2.4" height="1.2"/><rect x="231.34" y="274.01" width="2.4" height="1.2"/><rect x="234.56" y="273.76" width="2.4" height="1.2"/><rect x="237.78" y="276.34" width="2.4" height="1.2"/><rect x="240.99" y="275.42" width="2.4" height="1.2"/><rect x="244.21" y="277.60" width="2.4" height="1.2"/><rect x="247.42" y="276.15" width="2.4" height="1.2"/><rect x="250.64" y="279.19" width="2.4" height="1.2"/><rect x="253.86" y="279.55" width="2.4" height="1.2"/><rect x="257.07" y="281.32" width="2.4" height="1.2"/><rect x="260.29" y="281.09" width="2.4" height="1.2"/><rect x="263.50" y="278.11" width="2.4" height="1.2"/><rect x="266.72" y="282.66" width="2.4" height="1.2"/><rect x="269.94" y="282.28" width="2.4" height="1.2"/><rect x="273.15" y="283.33" width="2.4" height="1.2"/><rect x="276.37" y="281.93" width="2.4" height="1.2"/><rect x="279.58" y="285.85" width="2.4" height="1.2"/><rect x="282.80" y="285.83" width="2.4" height="1.2"/><rect x="286.02" y="287.56" width="2.4" height="1.2"/><rect x="289.23" y="291.57" width="2.4" height="1.2"/><rect x="292.45" y="291.56" width="2.4" height="1.2"/><rect x="295.66" y="294.03" width="2.4" height="1.2"/><rect x="298.88" y="295.74" width="2.4" height="1.2"/><rect x="302.10" y="294.64" width="2.4" height="1.2"/><rect x="305.31" y="299.68" width="2.4" height="1.2"/><rect x="308.53" y="299.08" width="2.4" height="1.2"/><rect x="311.74" y="298.95" width="2.4" height="1.2"/><rect x="314.96" y="303.08" width="2.4" height="1.2"/><rect x="318.18" y="303.97" width="2.4" height="1.2"/><rect x="321.39" y="307.58" width="2.4" height="1.2"/><rect x="324.61" y="308.61" width="2.4" height="1.2"/><rect x="327.82" y="309.72" width="2.4" height="1.2"/><rect x="331.04" y="323.24" width="2.4" height="1.2"/></g>
<path d="M40 246H335" stroke="#555" stroke-width="0.6"/>
<rect x="39.5" y="195.5" width="296" height="131" fill="none" stroke="#6c6c6c" stroke-width="1"/>
<g fill="#222" font-family="Liberation Sans, sans-serif"><text x="38" y="203.9" text-anchor="end" font-size="6.5">1.5</text><text x="38" y="234.0" text-anchor="end" font-size="6.5">0.5</text><text x="38" y="264.1" text-anchor="end" font-size="6.5">-0.5</text><text x="38" y="294.1" text-anchor="end" font-size="6.5">-1.5</text><text x="38" y="324.1" text-anchor="end" font-size="6.5">-2.5</text></g>
<rect x="269.5" y="198.5" width="63" height="25" fill="#fff" stroke="#555" stroke-width="1"/>
<rect x="272.5" y="200.5" width="16" height="5" fill="#c4c4c4" stroke="#555" stroke-width="0.8"/>
<rect x="272.5" y="208" width="16" height="5" fill="#fff" stroke="#555" stroke-width="0.8"/>
<rect x="272.5" y="216" width="16" height="5" fill="#3a3a3a" stroke="#333" stroke-width="0.8"/>
<text x="289.8" y="205.7" font-size="6.5" textLength="29.6" lengthAdjust="spacingAndGlyphs" fill="#222">COPD only</text><text x="289.8" y="213.7" font-size="6.5" textLength="40" lengthAdjust="spacingAndGlyphs" fill="#222">Benign nodules</text><text x="289.8" y="221.7" font-size="6.5" textLength="14.8" lengthAdjust="spacingAndGlyphs" fill="#222">Other</text>
<text x="11.6" y="194.8" font-size="9.6" font-weight="bold" fill="#111">B</text>
<text transform="translate(23.9 262) rotate(-90)" x="0" y="0" font-size="6.6" font-weight="bold" text-anchor="middle" textLength="79.5" lengthAdjust="spacingAndGlyphs" fill="#111">Classification score &#177; SEM</text>
<text x="187.1" y="336.2" font-size="6.8" font-weight="bold" text-anchor="middle" textLength="41.5" lengthAdjust="spacingAndGlyphs" fill="#111">NHC samples</text>
<path d="M402.5 194.7V325.7M376.5 299.5H506.5M428.5 194.7V325.7M376.5 273.3H506.5M454.5 194.7V325.7M376.5 247.1H506.5M480.5 194.7V325.7M376.5 220.9H506.5" stroke="#a8a8a8" stroke-width="0.8" fill="none"/>
<rect x="376.5" y="194.7" width="130.0" height="131.0" fill="none" stroke="#444" stroke-width="1"/>
<g fill="#222" font-size="6.6" font-family="Liberation Sans, sans-serif"><text x="376.5" y="333.9" text-anchor="middle">0</text><text x="375" y="328.1" text-anchor="end">0</text><text x="402.5" y="333.9" text-anchor="middle">0.2</text><text x="375" y="301.9" text-anchor="end">0.2</text><text x="428.5" y="333.9" text-anchor="middle">0.4</text><text x="375" y="275.7" text-anchor="end">0.4</text><text x="454.5" y="333.9" text-anchor="middle">0.6</text><text x="375" y="249.5" text-anchor="end">0.6</text><text x="480.5" y="333.9" text-anchor="middle">0.8</text><text x="375" y="223.3" text-anchor="end">0.8</text><text x="506.5" y="333.9" text-anchor="middle">1</text><text x="375" y="197.1" text-anchor="end">1</text></g>
<polyline points="376.7,325.7 376.7,295 377.7,295 377.7,282 379,282 379,268.5 381,268.5 381,260 382.6,260 382.6,254 383.8,254 383.8,251 384.8,251 384.8,246 386,246 386,242.5 387.8,242.5 387.8,240.6 389.8,240.6 389.8,239 391.7,239 391.7,236 392.7,236 392.7,232.8 393.7,232.8 393.7,229 394.5,229 394.5,220 395.4,220 395.4,215 396.6,215 396.6,212.8 398,212.8 398,210 399.4,210 399.4,208 400.6,208 400.6,206.4 402.6,206.4 402.6,204.3 404.2,204.3 404.2,202.9 415,202.9 415,201.8 417.5,201.8 417.5,200.3 419.5,200.3 419.5,198.8 422.5,198.8 422.5,197.6 425.5,197.6 425.5,196.6 429,196.6 429,195.6 433,195.6 433,195 436,195 436,194.7 506.5,194.7" fill="none" stroke="#000" stroke-width="2.1" stroke-linejoin="miter" stroke-linecap="square"/>
<circle cx="402" cy="206.3" r="2.6" fill="#fff" stroke="#000" stroke-width="1"/>
<rect x="450.5" y="197.5" width="54" height="10" fill="#fff" stroke="#444" stroke-width="0.8"/>
<path d="M453.5 202.5H471" stroke="#000" stroke-width="2"/>
<text x="472.4" y="205.8" font-size="7" textLength="28.6" lengthAdjust="spacingAndGlyphs" fill="#222">AUC=0.92</text>
<text x="351.3" y="194.9" font-size="10" font-weight="bold" fill="#111">C</text>
<text transform="translate(362.4 260.7) rotate(-90)" x="0" y="0" font-size="6.6" font-weight="bold" text-anchor="middle" textLength="32.8" lengthAdjust="spacingAndGlyphs" fill="#111">Sensitivity</text>
<text x="440.7" y="342.1" font-size="6.8" font-weight="bold" text-anchor="middle" textLength="39" lengthAdjust="spacingAndGlyphs" fill="#111">1-Specificity</text>
</svg>
</body></html>
